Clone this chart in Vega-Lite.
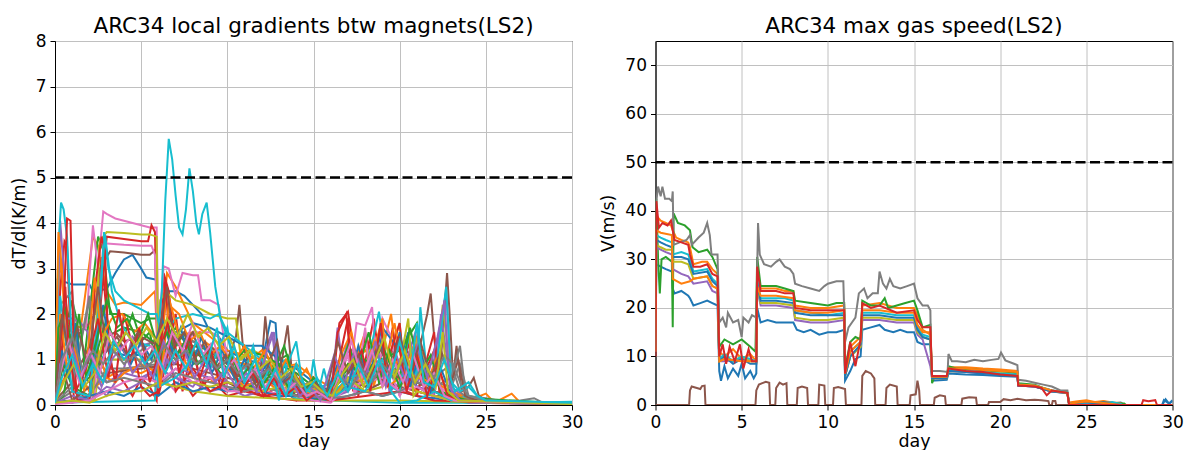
{
"$schema": "https://vega.github.io/schema/vega-lite/v6.json",
"background": "white",
"padding": {"left": 9, "top": 15, "right": 5, "bottom": 0},
"spacing": 14.5,
"config": {
  "font": "DejaVu Sans",
  "view": {"stroke": "black", "strokeWidth": 1},
  "axis": {"labelFont": "DejaVu Sans", "labelFontSize": 17, "titleFont": "DejaVu Sans", "titleFontSize": 17.5, "titleFontWeight": "normal", "labelColor": "black", "titleColor": "black", "domainColor": "black", "tickColor": "black", "tickSize": 5, "labelPadding": 4, "gridColor": "#c0c0c0", "gridWidth": 1, "gridOpacity": 1, "labelFlush": false, "labelOverlap": false},
  "axisX": {"titlePadding": 2},
  "axisY": {"titlePadding": 7},
  "title": {"font": "DejaVu Sans", "fontSize": 21.5, "fontWeight": "normal", "color": "black", "offset": -5}
},
"datasets": {
"grad": [
{"s":"a00","t":0,"v":0.05},{"s":"a00","t":0.15,"v":2.75},{"s":"a00","t":0.6,"v":2.7},{"s":"a00","t":1.0,"v":2.65},{"s":"a00","t":2.0,"v":2.65},{"s":"a00","t":2.2,"v":2.5},{"s":"a00","t":3.0,"v":2.55},{"s":"a00","t":3.5,"v":2.9},{"s":"a00","t":4.0,"v":3.2},{"s":"a00","t":4.5,"v":3.3},{"s":"a00","t":5.0,"v":3.0},{"s":"a00","t":5.3,"v":2.8},{"s":"a00","t":5.9,"v":2.75},{"s":"a00","t":6.0,"v":1.0},{"s":"a00","t":6.5,"v":2.5},{"s":"a00","t":7.0,"v":2.5},{"s":"a00","t":7.5,"v":2.4},{"s":"a00","t":8,"v":2.2},{"s":"a00","t":8.5,"v":2.0},{"s":"a00","t":9,"v":1.6},{"s":"a00","t":9.5,"v":1.5},{"s":"a00","t":10,"v":1.2},{"s":"a00","t":11,"v":1.0},{"s":"a00","t":12,"v":0.9},{"s":"a00","t":12.5,"v":1.85},{"s":"a00","t":12.8,"v":1.8},{"s":"a00","t":13,"v":0.6},{"s":"a00","t":14,"v":0.4},{"s":"a00","t":15,"v":0.3},{"s":"a00","t":16,"v":0.2},{"s":"a00","t":18,"v":0.5},{"s":"a00","t":19,"v":1.4},{"s":"a00","t":19.5,"v":0.3},{"s":"a00","t":20.5,"v":1.6},{"s":"a00","t":21,"v":0.3},{"s":"a00","t":22,"v":0.2},{"s":"a00","t":23,"v":0.1},{"s":"a00","t":25,"v":0.05},{"s":"a00","t":30,"v":0.02},
{"s":"a01","t":0,"v":0.05},{"s":"a01","t":0.3,"v":3.2},{"s":"a01","t":0.5,"v":2.6},{"s":"a01","t":0.8,"v":1.8},{"s":"a01","t":1.5,"v":1.7},{"s":"a01","t":2.2,"v":3.7},{"s":"a01","t":2.5,"v":3.5},{"s":"a01","t":3.0,"v":2.5},{"s":"a01","t":3.5,"v":2.2},{"s":"a01","t":4.0,"v":2.25},{"s":"a01","t":5,"v":2.2},{"s":"a01","t":5.8,"v":2.5},{"s":"a01","t":6.0,"v":0.8},{"s":"a01","t":6.5,"v":2.9},{"s":"a01","t":7,"v":2.6},{"s":"a01","t":8,"v":1.8},{"s":"a01","t":9,"v":1.5},{"s":"a01","t":10,"v":1.2},{"s":"a01","t":11,"v":1.1},{"s":"a01","t":12,"v":1.0},{"s":"a01","t":13,"v":0.5},{"s":"a01","t":14,"v":0.6},{"s":"a01","t":15,"v":0.3},{"s":"a01","t":16,"v":0.2},{"s":"a01","t":17,"v":0.5},{"s":"a01","t":18,"v":1.6},{"s":"a01","t":18.5,"v":0.4},{"s":"a01","t":19.5,"v":2.0},{"s":"a01","t":20,"v":0.5},{"s":"a01","t":21,"v":1.5},{"s":"a01","t":22,"v":0.3},{"s":"a01","t":23,"v":0.2},{"s":"a01","t":24,"v":0.1},{"s":"a01","t":25,"v":0.25},{"s":"a01","t":25.5,"v":0.05},{"s":"a01","t":26.5,"v":0.25},{"s":"a01","t":27,"v":0.05},{"s":"a01","t":30,"v":0.02},
{"s":"a02","t":0,"v":0.05},{"s":"a02","t":0.5,"v":1.5},{"s":"a02","t":1,"v":2.3},{"s":"a02","t":1.3,"v":1.8},{"s":"a02","t":1.5,"v":0.3},{"s":"a02","t":2.5,"v":3.7},{"s":"a02","t":2.8,"v":3.4},{"s":"a02","t":3.2,"v":2.0},{"s":"a02","t":4,"v":2.0},{"s":"a02","t":4.5,"v":1.9},{"s":"a02","t":5,"v":1.8},{"s":"a02","t":5.5,"v":1.9},{"s":"a02","t":6,"v":1.9},{"s":"a02","t":6.3,"v":1.2},{"s":"a02","t":7,"v":1.7},{"s":"a02","t":7.5,"v":1.4},{"s":"a02","t":8,"v":1.3},{"s":"a02","t":9,"v":1.2},{"s":"a02","t":10,"v":0.8},{"s":"a02","t":11,"v":0.6},{"s":"a02","t":12,"v":0.6},{"s":"a02","t":13,"v":1.0},{"s":"a02","t":13.5,"v":1.1},{"s":"a02","t":14,"v":0.5},{"s":"a02","t":15,"v":0.3},{"s":"a02","t":16,"v":0.3},{"s":"a02","t":17,"v":0.8},{"s":"a02","t":18,"v":1.2},{"s":"a02","t":19,"v":1.0},{"s":"a02","t":20,"v":1.2},{"s":"a02","t":21,"v":1.8},{"s":"a02","t":21.5,"v":0.5},{"s":"a02","t":22,"v":0.3},{"s":"a02","t":23,"v":0.15},{"s":"a02","t":24,"v":0.1},{"s":"a02","t":25,"v":0.05},{"s":"a02","t":30,"v":0.02},
{"s":"a03","t":0,"v":0.05},{"s":"a03","t":0.3,"v":2.5},{"s":"a03","t":0.55,"v":3.6},{"s":"a03","t":0.7,"v":3.5},{"s":"a03","t":0.9,"v":1.5},{"s":"a03","t":1.1,"v":0.1},{"s":"a03","t":1.6,"v":0.2},{"s":"a03","t":2.0,"v":0.1},{"s":"a03","t":2.4,"v":1.0},{"s":"a03","t":2.7,"v":3.25},{"s":"a03","t":3.0,"v":2.0},{"s":"a03","t":3.3,"v":0.8},{"s":"a03","t":4,"v":0.5},{"s":"a03","t":4.5,"v":0.2},{"s":"a03","t":5.0,"v":0.6},{"s":"a03","t":5.5,"v":0.4},{"s":"a03","t":5.9,"v":0.1},{"s":"a03","t":6.3,"v":2.9},{"s":"a03","t":6.6,"v":2.5},{"s":"a03","t":7,"v":1.2},{"s":"a03","t":7.4,"v":0.3},{"s":"a03","t":8,"v":1.3},{"s":"a03","t":8.5,"v":0.4},{"s":"a03","t":9,"v":1.0},{"s":"a03","t":10,"v":0.3},{"s":"a03","t":11,"v":0.5},{"s":"a03","t":12,"v":0.2},{"s":"a03","t":13,"v":0.4},{"s":"a03","t":14,"v":0.1},{"s":"a03","t":15,"v":0.5},{"s":"a03","t":16,"v":0.1},{"s":"a03","t":16.5,"v":1.8},{"s":"a03","t":17,"v":2.05},{"s":"a03","t":17.3,"v":1.3},{"s":"a03","t":17.6,"v":0.2},{"s":"a03","t":18.5,"v":1.9},{"s":"a03","t":19,"v":0.5},{"s":"a03","t":19.6,"v":1.7},{"s":"a03","t":20,"v":0.2},{"s":"a03","t":20.5,"v":1.4},{"s":"a03","t":21,"v":0.3},{"s":"a03","t":22,"v":1.2},{"s":"a03","t":22.4,"v":0.2},{"s":"a03","t":23,"v":0.1},{"s":"a03","t":24,"v":0.05},{"s":"a03","t":30,"v":0.02},
{"s":"a04","t":0,"v":0.05},{"s":"a04","t":0.2,"v":1.9},{"s":"a04","t":1.0,"v":1.9},{"s":"a04","t":1.5,"v":1.8},{"s":"a04","t":1.9,"v":1.6},{"s":"a04","t":2.2,"v":0.5},{"s":"a04","t":3,"v":0.2},{"s":"a04","t":4,"v":0.8},{"s":"a04","t":4.5,"v":1.5},{"s":"a04","t":5,"v":1.3},{"s":"a04","t":5.8,"v":1.4},{"s":"a04","t":6.2,"v":0.5},{"s":"a04","t":7,"v":0.8},{"s":"a04","t":8,"v":0.7},{"s":"a04","t":9,"v":0.6},{"s":"a04","t":10,"v":0.5},{"s":"a04","t":11,"v":0.4},{"s":"a04","t":12,"v":1.0},{"s":"a04","t":12.6,"v":1.6},{"s":"a04","t":13,"v":0.3},{"s":"a04","t":14,"v":0.2},{"s":"a04","t":15,"v":0.4},{"s":"a04","t":16,"v":0.2},{"s":"a04","t":16.4,"v":1.7},{"s":"a04","t":16.8,"v":0.5},{"s":"a04","t":18,"v":0.9},{"s":"a04","t":19,"v":1.1},{"s":"a04","t":20,"v":0.8},{"s":"a04","t":21,"v":0.5},{"s":"a04","t":22,"v":1.0},{"s":"a04","t":22.7,"v":2.5},{"s":"a04","t":23,"v":0.4},{"s":"a04","t":24,"v":0.1},{"s":"a04","t":30,"v":0.02},
{"s":"a05","t":0,"v":0.05},{"s":"a05","t":0.2,"v":1.2},{"s":"a05","t":0.5,"v":1.3},{"s":"a05","t":1,"v":1.45},{"s":"a05","t":1.5,"v":1.6},{"s":"a05","t":2,"v":1.8},{"s":"a05","t":2.3,"v":2.0},{"s":"a05","t":2.6,"v":3.0},{"s":"a05","t":3.2,"v":3.38},{"s":"a05","t":4,"v":3.35},{"s":"a05","t":5,"v":3.3},{"s":"a05","t":5.5,"v":3.3},{"s":"a05","t":5.8,"v":3.4},{"s":"a05","t":6.0,"v":1.0},{"s":"a05","t":6.5,"v":0.8},{"s":"a05","t":7,"v":1.5},{"s":"a05","t":8,"v":1.4},{"s":"a05","t":9,"v":1.2},{"s":"a05","t":10,"v":1.0},{"s":"a05","t":10.5,"v":1.5},{"s":"a05","t":10.7,"v":2.2},{"s":"a05","t":10.9,"v":1.3},{"s":"a05","t":11.5,"v":0.6},{"s":"a05","t":12,"v":0.9},{"s":"a05","t":12.2,"v":1.95},{"s":"a05","t":12.4,"v":1.2},{"s":"a05","t":13,"v":0.6},{"s":"a05","t":13.5,"v":1.75},{"s":"a05","t":13.8,"v":0.5},{"s":"a05","t":15,"v":0.3},{"s":"a05","t":16,"v":0.2},{"s":"a05","t":17,"v":1.3},{"s":"a05","t":18,"v":0.8},{"s":"a05","t":19,"v":1.0},{"s":"a05","t":20,"v":1.3},{"s":"a05","t":21,"v":1.0},{"s":"a05","t":21.6,"v":2.0},{"s":"a05","t":21.8,"v":2.45},{"s":"a05","t":22.0,"v":1.5},{"s":"a05","t":22.3,"v":0.5},{"s":"a05","t":22.6,"v":2.1},{"s":"a05","t":22.75,"v":2.9},{"s":"a05","t":22.9,"v":2.0},{"s":"a05","t":23.1,"v":0.6},{"s":"a05","t":23.3,"v":1.3},{"s":"a05","t":23.6,"v":0.3},{"s":"a05","t":24,"v":0.4},{"s":"a05","t":24.3,"v":0.6},{"s":"a05","t":24.6,"v":0.2},{"s":"a05","t":25,"v":0.1},{"s":"a05","t":30,"v":0.03},
{"s":"a06","t":0,"v":0.05},{"s":"a06","t":0.3,"v":1.5},{"s":"a06","t":1,"v":1.6},{"s":"a06","t":1.8,"v":1.7},{"s":"a06","t":2.2,"v":3.95},{"s":"a06","t":2.5,"v":3.0},{"s":"a06","t":2.8,"v":4.25},{"s":"a06","t":3.0,"v":4.2},{"s":"a06","t":3.5,"v":4.1},{"s":"a06","t":4,"v":4.05},{"s":"a06","t":4.5,"v":4.0},{"s":"a06","t":5,"v":3.95},{"s":"a06","t":5.5,"v":3.9},{"s":"a06","t":5.9,"v":3.9},{"s":"a06","t":6.0,"v":1.5},{"s":"a06","t":6.3,"v":3.05},{"s":"a06","t":6.6,"v":3.0},{"s":"a06","t":7,"v":2.4},{"s":"a06","t":7.4,"v":2.9},{"s":"a06","t":8,"v":2.85},{"s":"a06","t":8.3,"v":2.85},{"s":"a06","t":8.5,"v":2.3},{"s":"a06","t":9,"v":2.3},{"s":"a06","t":9.5,"v":2.2},{"s":"a06","t":10,"v":1.0},{"s":"a06","t":11,"v":0.8},{"s":"a06","t":12,"v":0.7},{"s":"a06","t":13,"v":0.3},{"s":"a06","t":14,"v":0.5},{"s":"a06","t":15,"v":0.3},{"s":"a06","t":16,"v":0.2},{"s":"a06","t":17,"v":0.3},{"s":"a06","t":17.5,"v":1.8},{"s":"a06","t":18,"v":1.75},{"s":"a06","t":18.4,"v":2.15},{"s":"a06","t":18.7,"v":0.6},{"s":"a06","t":19,"v":1.9},{"s":"a06","t":19.5,"v":1.5},{"s":"a06","t":20,"v":0.4},{"s":"a06","t":21,"v":1.3},{"s":"a06","t":22,"v":0.5},{"s":"a06","t":23,"v":0.2},{"s":"a06","t":24,"v":0.1},{"s":"a06","t":30,"v":0.02},
{"s":"a07","t":0,"v":0.05},{"s":"a07","t":0.3,"v":2.2},{"s":"a07","t":1,"v":2.5},{"s":"a07","t":1.3,"v":1.0},{"s":"a07","t":2,"v":2.3},{"s":"a07","t":2.5,"v":2.0},{"s":"a07","t":3,"v":1.3},{"s":"a07","t":4,"v":1.0},{"s":"a07","t":5,"v":1.2},{"s":"a07","t":6,"v":1.5},{"s":"a07","t":6.5,"v":0.9},{"s":"a07","t":7,"v":1.3},{"s":"a07","t":8,"v":1.4},{"s":"a07","t":9,"v":1.2},{"s":"a07","t":10,"v":0.9},{"s":"a07","t":11,"v":0.7},{"s":"a07","t":12,"v":0.6},{"s":"a07","t":13,"v":0.5},{"s":"a07","t":14,"v":0.4},{"s":"a07","t":15,"v":0.3},{"s":"a07","t":16,"v":0.5},{"s":"a07","t":17,"v":0.6},{"s":"a07","t":18,"v":0.5},{"s":"a07","t":19,"v":0.8},{"s":"a07","t":20,"v":0.7},{"s":"a07","t":21,"v":1.0},{"s":"a07","t":22,"v":0.5},{"s":"a07","t":23,"v":0.4},{"s":"a07","t":23.5,"v":0.9},{"s":"a07","t":24,"v":0.2},{"s":"a07","t":25,"v":0.15},{"s":"a07","t":26,"v":0.08},{"s":"a07","t":27,"v":0.1},{"s":"a07","t":27.8,"v":0.15},{"s":"a07","t":28.3,"v":0.05},{"s":"a07","t":30,"v":0.02},
{"s":"a08","t":0,"v":0.05},{"s":"a08","t":2.3,"v":0.1},{"s":"a08","t":2.6,"v":0.9},{"s":"a08","t":3,"v":1.0},{"s":"a08","t":4,"v":1.0},{"s":"a08","t":5,"v":1.0},{"s":"a08","t":5.9,"v":1.0},{"s":"a08","t":6.1,"v":2.3},{"s":"a08","t":6.4,"v":2.5},{"s":"a08","t":7,"v":2.3},{"s":"a08","t":8,"v":2.2},{"s":"a08","t":9,"v":2.0},{"s":"a08","t":10,"v":1.9},{"s":"a08","t":10.5,"v":1.9},{"s":"a08","t":10.8,"v":1.0},{"s":"a08","t":11.5,"v":1.2},{"s":"a08","t":12,"v":1.1},{"s":"a08","t":13,"v":0.5},{"s":"a08","t":14,"v":0.3},{"s":"a08","t":15,"v":0.35},{"s":"a08","t":16,"v":0.3},{"s":"a08","t":17,"v":0.5},{"s":"a08","t":18,"v":1.3},{"s":"a08","t":19,"v":0.6},{"s":"a08","t":20,"v":1.8},{"s":"a08","t":20.3,"v":0.4},{"s":"a08","t":21,"v":1.4},{"s":"a08","t":22,"v":0.3},{"s":"a08","t":22.5,"v":2.2},{"s":"a08","t":22.7,"v":1.5},{"s":"a08","t":23,"v":0.3},{"s":"a08","t":24,"v":0.1},{"s":"a08","t":30,"v":0.02},
{"s":"a09","t":0,"v":0.05},{"s":"a09","t":5.8,"v":0.1},{"s":"a09","t":5.9,"v":1.2},{"s":"a09","t":6.2,"v":2.5},{"s":"a09","t":6.4,"v":4.5},{"s":"a09","t":6.6,"v":5.85},{"s":"a09","t":6.8,"v":5.4},{"s":"a09","t":7.0,"v":4.6},{"s":"a09","t":7.2,"v":3.9},{"s":"a09","t":7.4,"v":3.75},{"s":"a09","t":7.6,"v":4.3},{"s":"a09","t":7.8,"v":5.2},{"s":"a09","t":8.0,"v":4.7},{"s":"a09","t":8.2,"v":4.0},{"s":"a09","t":8.35,"v":3.75},{"s":"a09","t":8.55,"v":4.2},{"s":"a09","t":8.8,"v":4.45},{"s":"a09","t":9.0,"v":3.8},{"s":"a09","t":9.3,"v":2.6},{"s":"a09","t":9.6,"v":1.9},{"s":"a09","t":10.0,"v":1.5},{"s":"a09","t":10.3,"v":1.1},{"s":"a09","t":10.7,"v":0.8},{"s":"a09","t":11.0,"v":0.9},{"s":"a09","t":11.5,"v":0.6},{"s":"a09","t":12,"v":0.4},{"s":"a09","t":13,"v":0.3},{"s":"a09","t":14,"v":0.15},{"s":"a09","t":16,"v":0.1},{"s":"a09","t":20,"v":0.05},{"s":"a09","t":30,"v":0.05},
{"s":"a10","t":0,"v":0.3},{"s":"a10","t":1,"v":0.8},{"s":"a10","t":2,"v":0.5},{"s":"a10","t":3,"v":1.2},{"s":"a10","t":4,"v":1.1},{"s":"a10","t":5,"v":1.1},{"s":"a10","t":6,"v":0.6},{"s":"a10","t":7,"v":1.6},{"s":"a10","t":8,"v":1.8},{"s":"a10","t":9,"v":1.7},{"s":"a10","t":10,"v":1.5},{"s":"a10","t":11,"v":1.3},{"s":"a10","t":12,"v":1.3},{"s":"a10","t":13,"v":1.0},{"s":"a10","t":14,"v":0.8},{"s":"a10","t":15,"v":0.5},{"s":"a10","t":16,"v":0.3},{"s":"a10","t":17,"v":1.2},{"s":"a10","t":18,"v":0.6},{"s":"a10","t":19,"v":1.7},{"s":"a10","t":20,"v":1.2},{"s":"a10","t":21,"v":0.4},{"s":"a10","t":22,"v":0.2},{"s":"a10","t":23,"v":0.1},{"s":"a10","t":30,"v":0.02},
{"s":"a11","t":0,"v":0.1},{"s":"a11","t":1,"v":1.0},{"s":"a11","t":2,"v":0.3},{"s":"a11","t":3,"v":0.6},{"s":"a11","t":4,"v":0.8},{"s":"a11","t":5,"v":0.7},{"s":"a11","t":6,"v":0.9},{"s":"a11","t":7,"v":1.5},{"s":"a11","t":8,"v":1.6},{"s":"a11","t":9,"v":1.3},{"s":"a11","t":10,"v":1.0},{"s":"a11","t":11,"v":0.9},{"s":"a11","t":12,"v":1.2},{"s":"a11","t":13,"v":0.8},{"s":"a11","t":14,"v":0.9},{"s":"a11","t":15,"v":0.6},{"s":"a11","t":16,"v":0.4},{"s":"a11","t":17,"v":0.9},{"s":"a11","t":18,"v":1.2},{"s":"a11","t":19,"v":0.7},{"s":"a11","t":20,"v":1.0},{"s":"a11","t":21,"v":0.6},{"s":"a11","t":22,"v":0.5},{"s":"a11","t":23,"v":0.3},{"s":"a11","t":24,"v":0.15},{"s":"a11","t":25,"v":0.1},{"s":"a11","t":30,"v":0.03},
{"s":"a12","t":0,"v":0.1},{"s":"a12","t":0.5,"v":0.9},{"s":"a12","t":1,"v":0.4},{"s":"a12","t":2,"v":0.2},{"s":"a12","t":3,"v":1.5},{"s":"a12","t":4,"v":1.7},{"s":"a12","t":5,"v":1.6},{"s":"a12","t":6,"v":1.3},{"s":"a12","t":7,"v":1.0},{"s":"a12","t":8,"v":1.2},{"s":"a12","t":9,"v":0.9},{"s":"a12","t":10,"v":0.8},{"s":"a12","t":11,"v":1.2},{"s":"a12","t":12,"v":1.1},{"s":"a12","t":13,"v":0.9},{"s":"a12","t":14,"v":0.7},{"s":"a12","t":15,"v":0.4},{"s":"a12","t":16,"v":0.3},{"s":"a12","t":17,"v":0.7},{"s":"a12","t":18,"v":1.0},{"s":"a12","t":19,"v":0.5},{"s":"a12","t":20,"v":0.9},{"s":"a12","t":21,"v":0.4},{"s":"a12","t":22,"v":0.2},{"s":"a12","t":30,"v":0.02},
{"s":"a13","t":0,"v":0.05},{"s":"a13","t":1.5,"v":0.1},{"s":"a13","t":2.2,"v":0.3},{"s":"a13","t":2.6,"v":2.0},{"s":"a13","t":3.0,"v":3.7},{"s":"a13","t":4,"v":3.65},{"s":"a13","t":5,"v":3.6},{"s":"a13","t":5.4,"v":3.6},{"s":"a13","t":5.6,"v":3.95},{"s":"a13","t":5.8,"v":3.8},{"s":"a13","t":6.0,"v":0.2},{"s":"a13","t":6.5,"v":1.0},{"s":"a13","t":7,"v":2.0},{"s":"a13","t":7.5,"v":0.5},{"s":"a13","t":8,"v":0.2},{"s":"a13","t":9,"v":0.6},{"s":"a13","t":10,"v":0.2},{"s":"a13","t":11,"v":0.3},{"s":"a13","t":12,"v":0.2},{"s":"a13","t":14,"v":0.1},{"s":"a13","t":16,"v":0.1},{"s":"a13","t":17,"v":1.9},{"s":"a13","t":17.3,"v":0.3},{"s":"a13","t":18,"v":1.5},{"s":"a13","t":19,"v":0.6},{"s":"a13","t":20,"v":1.8},{"s":"a13","t":20.4,"v":0.3},{"s":"a13","t":21,"v":0.2},{"s":"a13","t":22,"v":1.6},{"s":"a13","t":22.3,"v":0.3},{"s":"a13","t":23,"v":0.1},{"s":"a13","t":30,"v":0.02},
{"s":"a14","t":0,"v":0.05},{"s":"a14","t":0.3,"v":4.05},{"s":"a14","t":0.5,"v":3.0},{"s":"a14","t":0.7,"v":1.5},{"s":"a14","t":1,"v":0.8},{"s":"a14","t":1.5,"v":0.5},{"s":"a14","t":2,"v":0.7},{"s":"a14","t":3,"v":0.5},{"s":"a14","t":4,"v":0.7},{"s":"a14","t":5,"v":0.6},{"s":"a14","t":6,"v":0.8},{"s":"a14","t":7,"v":0.6},{"s":"a14","t":8,"v":0.5},{"s":"a14","t":9,"v":0.3},{"s":"a14","t":10,"v":0.4},{"s":"a14","t":11,"v":0.2},{"s":"a14","t":12,"v":0.3},{"s":"a14","t":13,"v":0.2},{"s":"a14","t":14,"v":0.3},{"s":"a14","t":15,"v":0.2},{"s":"a14","t":16,"v":0.1},{"s":"a14","t":17,"v":1.4},{"s":"a14","t":17.5,"v":0.3},{"s":"a14","t":18,"v":0.7},{"s":"a14","t":19,"v":1.8},{"s":"a14","t":19.4,"v":0.3},{"s":"a14","t":20,"v":0.5},{"s":"a14","t":21,"v":1.7},{"s":"a14","t":21.3,"v":0.5},{"s":"a14","t":22,"v":0.2},{"s":"a14","t":22.4,"v":2.0},{"s":"a14","t":23,"v":0.3},{"s":"a14","t":24,"v":0.05},{"s":"a14","t":30,"v":0.02},
{"s":"a15","t":0,"v":0.1},{"s":"a15","t":1,"v":0.5},{"s":"a15","t":2,"v":1.3},{"s":"a15","t":3,"v":0.7},{"s":"a15","t":4,"v":0.75},{"s":"a15","t":5,"v":0.8},{"s":"a15","t":6,"v":0.85},{"s":"a15","t":7,"v":0.9},{"s":"a15","t":8,"v":0.8},{"s":"a15","t":9,"v":0.7},{"s":"a15","t":10,"v":0.6},{"s":"a15","t":11,"v":0.5},{"s":"a15","t":12,"v":0.6},{"s":"a15","t":13,"v":0.4},{"s":"a15","t":14,"v":0.3},{"s":"a15","t":15,"v":0.25},{"s":"a15","t":16,"v":0.2},{"s":"a15","t":17,"v":0.4},{"s":"a15","t":18,"v":0.3},{"s":"a15","t":19,"v":0.5},{"s":"a15","t":20,"v":0.4},{"s":"a15","t":21,"v":0.3},{"s":"a15","t":22,"v":0.2},{"s":"a15","t":23,"v":0.15},{"s":"a15","t":24,"v":0.1},{"s":"a15","t":30,"v":0.02},
{"s":"a16","t":0,"v":0.05},{"s":"a16","t":2.3,"v":0.2},{"s":"a16","t":2.8,"v":3.55},{"s":"a16","t":3.0,"v":3.55},{"s":"a16","t":4,"v":3.52},{"s":"a16","t":5,"v":3.5},{"s":"a16","t":5.6,"v":3.5},{"s":"a16","t":5.8,"v":3.3},{"s":"a16","t":6.0,"v":0.4},{"s":"a16","t":6.5,"v":0.5},{"s":"a16","t":7,"v":0.3},{"s":"a16","t":8,"v":1.6},{"s":"a16","t":9,"v":1.6},{"s":"a16","t":9.5,"v":1.5},{"s":"a16","t":10,"v":0.4},{"s":"a16","t":12,"v":0.3},{"s":"a16","t":14,"v":0.2},{"s":"a16","t":16,"v":0.1},{"s":"a16","t":17,"v":1.1},{"s":"a16","t":17.4,"v":0.2},{"s":"a16","t":18,"v":1.7},{"s":"a16","t":18.3,"v":0.4},{"s":"a16","t":19,"v":1.2},{"s":"a16","t":20,"v":0.2},{"s":"a16","t":21,"v":0.8},{"s":"a16","t":22,"v":0.1},{"s":"a16","t":30,"v":0.02},
{"s":"a17","t":0,"v":0.05},{"s":"a17","t":1,"v":0.3},{"s":"a17","t":2,"v":0.2},{"s":"a17","t":3,"v":0.8},{"s":"a17","t":4,"v":0.8},{"s":"a17","t":5,"v":0.85},{"s":"a17","t":6,"v":0.9},{"s":"a17","t":7,"v":1.4},{"s":"a17","t":8,"v":1.2},{"s":"a17","t":9,"v":1.1},{"s":"a17","t":10,"v":0.9},{"s":"a17","t":11,"v":0.6},{"s":"a17","t":12,"v":0.5},{"s":"a17","t":13,"v":0.5},{"s":"a17","t":14,"v":0.4},{"s":"a17","t":15,"v":0.4},{"s":"a17","t":16,"v":0.3},{"s":"a17","t":17,"v":0.4},{"s":"a17","t":18,"v":0.6},{"s":"a17","t":19,"v":0.9},{"s":"a17","t":20,"v":0.6},{"s":"a17","t":21,"v":0.8},{"s":"a17","t":22,"v":0.6},{"s":"a17","t":23,"v":0.9},{"s":"a17","t":23.5,"v":0.3},{"s":"a17","t":24,"v":0.1},{"s":"a17","t":30,"v":0.02},
{"s":"a18","t":0,"v":0.05},{"s":"a18","t":2.2,"v":0.1},{"s":"a18","t":2.6,"v":3.6},{"s":"a18","t":3.0,"v":3.8},{"s":"a18","t":4,"v":3.78},{"s":"a18","t":5,"v":3.75},{"s":"a18","t":5.5,"v":3.75},{"s":"a18","t":5.9,"v":3.7},{"s":"a18","t":6.0,"v":0.5},{"s":"a18","t":7,"v":0.4},{"s":"a18","t":8,"v":0.3},{"s":"a18","t":10,"v":0.2},{"s":"a18","t":15,"v":0.1},{"s":"a18","t":20,"v":0.1},{"s":"a18","t":30,"v":0.02},
{"s":"a19","t":0,"v":0.05},{"s":"a19","t":0.2,"v":3.5},{"s":"a19","t":0.35,"v":4.45},{"s":"a19","t":0.5,"v":4.3},{"s":"a19","t":0.7,"v":3.7},{"s":"a19","t":0.9,"v":2.0},{"s":"a19","t":1.1,"v":0.5},{"s":"a19","t":1.4,"v":0.2},{"s":"a19","t":2,"v":0.1},{"s":"a19","t":2.5,"v":1.5},{"s":"a19","t":2.85,"v":3.8},{"s":"a19","t":3.1,"v":3.0},{"s":"a19","t":3.5,"v":2.5},{"s":"a19","t":4,"v":2.3},{"s":"a19","t":4.5,"v":2.2},{"s":"a19","t":5,"v":2.1},{"s":"a19","t":5.5,"v":2.0},{"s":"a19","t":5.9,"v":2.0},{"s":"a19","t":6.2,"v":1.5},{"s":"a19","t":7,"v":1.9},{"s":"a19","t":8,"v":2.0},{"s":"a19","t":9,"v":1.9},{"s":"a19","t":9.5,"v":2.0},{"s":"a19","t":10,"v":1.6},{"s":"a19","t":11,"v":1.3},{"s":"a19","t":12,"v":1.0},{"s":"a19","t":12.5,"v":0.6},{"s":"a19","t":13,"v":0.3},{"s":"a19","t":13.5,"v":0.9},{"s":"a19","t":14,"v":1.4},{"s":"a19","t":14.3,"v":0.6},{"s":"a19","t":14.7,"v":0.2},{"s":"a19","t":15,"v":1.0},{"s":"a19","t":15.3,"v":0.3},{"s":"a19","t":15.6,"v":0.8},{"s":"a19","t":16,"v":0.2},{"s":"a19","t":17,"v":0.6},{"s":"a19","t":18,"v":0.7},{"s":"a19","t":18.8,"v":2.05},{"s":"a19","t":19.1,"v":1.2},{"s":"a19","t":19.5,"v":0.4},{"s":"a19","t":20,"v":0.3},{"s":"a19","t":20.5,"v":1.5},{"s":"a19","t":21,"v":0.6},{"s":"a19","t":21.2,"v":2.15},{"s":"a19","t":21.5,"v":1.0},{"s":"a19","t":22,"v":0.4},{"s":"a19","t":22.7,"v":2.6},{"s":"a19","t":23,"v":0.5},{"s":"a19","t":23.5,"v":0.3},{"s":"a19","t":24,"v":0.4},{"s":"a19","t":24.5,"v":0.2},{"s":"a19","t":25,"v":0.1},{"s":"a19","t":28,"v":0.05},{"s":"a19","t":30,"v":0.06},
{"s":"a20","t":0,"v":0.02},{"s":"a20","t":0.5,"v":0.1},{"s":"a20","t":1,"v":0.05},{"s":"a20","t":2,"v":0.2},{"s":"a20","t":3,"v":0.3},{"s":"a20","t":4,"v":0.2},{"s":"a20","t":5,"v":0.4},{"s":"a20","t":6,"v":0.2},{"s":"a20","t":7,"v":0.5},{"s":"a20","t":8,"v":0.3},{"s":"a20","t":9,"v":0.4},{"s":"a20","t":10,"v":0.3},{"s":"a20","t":11,"v":0.5},{"s":"a20","t":12,"v":0.3},{"s":"a20","t":13,"v":0.2},{"s":"a20","t":14,"v":0.2},{"s":"a20","t":15,"v":0.15},{"s":"a20","t":16,"v":0.1},{"s":"a20","t":17,"v":0.2},{"s":"a20","t":18,"v":0.3},{"s":"a20","t":19,"v":0.2},{"s":"a20","t":20,"v":0.3},{"s":"a20","t":21,"v":0.2},{"s":"a20","t":22,"v":0.15},{"s":"a20","t":23,"v":0.1},{"s":"a20","t":24,"v":0.1},{"s":"a20","t":25,"v":0.08},{"s":"a20","t":30,"v":0.03},
{"s":"a21","t":0,"v":0.05},{"s":"a21","t":0.2,"v":3.8},{"s":"a21","t":0.4,"v":3.0},{"s":"a21","t":0.6,"v":1.5},{"s":"a21","t":1,"v":1.2},{"s":"a21","t":1.5,"v":0.6},{"s":"a21","t":2,"v":0.3},{"s":"a21","t":2.5,"v":1.2},{"s":"a21","t":3,"v":0.6},{"s":"a21","t":3.5,"v":0.5},{"s":"a21","t":4,"v":0.7},{"s":"a21","t":5,"v":0.9},{"s":"a21","t":6,"v":0.7},{"s":"a21","t":6.5,"v":2.5},{"s":"a21","t":7,"v":1.8},{"s":"a21","t":7.5,"v":1.0},{"s":"a21","t":8,"v":0.6},{"s":"a21","t":9,"v":0.5},{"s":"a21","t":10,"v":0.8},{"s":"a21","t":11,"v":0.4},{"s":"a21","t":12,"v":0.6},{"s":"a21","t":13,"v":0.3},{"s":"a21","t":14,"v":0.9},{"s":"a21","t":14.5,"v":0.3},{"s":"a21","t":15,"v":0.2},{"s":"a21","t":16,"v":0.1},{"s":"a21","t":17,"v":0.6},{"s":"a21","t":18,"v":0.5},{"s":"a21","t":19,"v":1.9},{"s":"a21","t":19.3,"v":0.4},{"s":"a21","t":20,"v":0.6},{"s":"a21","t":21,"v":0.3},{"s":"a21","t":22,"v":0.2},{"s":"a21","t":23,"v":0.1},{"s":"a21","t":24,"v":0.2},{"s":"a21","t":25,"v":0.1},{"s":"a21","t":30,"v":0.02},
{"s":"a22","t":0,"v":0.05},{"s":"a22","t":0.5,"v":0.2},{"s":"a22","t":1,"v":1.4},{"s":"a22","t":1.5,"v":0.5},{"s":"a22","t":2,"v":0.6},{"s":"a22","t":3,"v":1.9},{"s":"a22","t":3.5,"v":1.3},{"s":"a22","t":4,"v":1.5},{"s":"a22","t":4.5,"v":2.0},{"s":"a22","t":5,"v":1.4},{"s":"a22","t":5.5,"v":1.6},{"s":"a22","t":6,"v":0.6},{"s":"a22","t":6.5,"v":1.8},{"s":"a22","t":7,"v":1.3},{"s":"a22","t":7.5,"v":1.6},{"s":"a22","t":8,"v":0.9},{"s":"a22","t":9,"v":1.0},{"s":"a22","t":10,"v":0.5},{"s":"a22","t":11,"v":0.3},{"s":"a22","t":12,"v":0.6},{"s":"a22","t":13,"v":0.9},{"s":"a22","t":13.5,"v":0.4},{"s":"a22","t":14,"v":0.2},{"s":"a22","t":15,"v":0.1},{"s":"a22","t":16,"v":0.2},{"s":"a22","t":17,"v":0.9},{"s":"a22","t":18,"v":0.6},{"s":"a22","t":19,"v":1.3},{"s":"a22","t":20,"v":0.4},{"s":"a22","t":21,"v":1.0},{"s":"a22","t":22,"v":0.3},{"s":"a22","t":23,"v":0.1},{"s":"a22","t":30,"v":0.02},
{"s":"a23","t":0,"v":0.05},{"s":"a23","t":0.4,"v":1.0},{"s":"a23","t":0.7,"v":4.1},{"s":"a23","t":0.9,"v":4.05},{"s":"a23","t":1.1,"v":1.0},{"s":"a23","t":1.3,"v":0.1},{"s":"a23","t":2,"v":0.1},{"s":"a23","t":2.3,"v":2.5},{"s":"a23","t":2.7,"v":3.7},{"s":"a23","t":2.9,"v":3.4},{"s":"a23","t":3.1,"v":1.2},{"s":"a23","t":3.5,"v":0.5},{"s":"a23","t":4,"v":2.0},{"s":"a23","t":4.5,"v":1.3},{"s":"a23","t":5,"v":0.4},{"s":"a23","t":5.5,"v":0.2},{"s":"a23","t":6,"v":0.3},{"s":"a23","t":6.4,"v":2.8},{"s":"a23","t":6.7,"v":1.0},{"s":"a23","t":7,"v":0.3},{"s":"a23","t":8,"v":0.8},{"s":"a23","t":9,"v":0.3},{"s":"a23","t":10,"v":0.5},{"s":"a23","t":12,"v":0.2},{"s":"a23","t":14,"v":0.3},{"s":"a23","t":16,"v":0.1},{"s":"a23","t":18,"v":0.2},{"s":"a23","t":20,"v":0.3},{"s":"a23","t":22,"v":0.1},{"s":"a23","t":30,"v":0.02},
{"s":"a24","t":0,"v":0.05},{"s":"a24","t":1,"v":0.2},{"s":"a24","t":2,"v":0.1},{"s":"a24","t":3,"v":0.4},{"s":"a24","t":4,"v":0.3},{"s":"a24","t":5,"v":0.5},{"s":"a24","t":5.5,"v":0.7},{"s":"a24","t":6,"v":0.4},{"s":"a24","t":6.5,"v":1.0},{"s":"a24","t":7,"v":0.6},{"s":"a24","t":8,"v":0.4},{"s":"a24","t":9,"v":0.9},{"s":"a24","t":10,"v":0.5},{"s":"a24","t":11,"v":0.4},{"s":"a24","t":12,"v":0.3},{"s":"a24","t":13,"v":0.7},{"s":"a24","t":14,"v":0.3},{"s":"a24","t":15,"v":0.2},{"s":"a24","t":16,"v":0.15},{"s":"a24","t":17,"v":0.3},{"s":"a24","t":18,"v":0.8},{"s":"a24","t":19,"v":0.5},{"s":"a24","t":20,"v":0.9},{"s":"a24","t":21,"v":0.4},{"s":"a24","t":22,"v":0.3},{"s":"a24","t":23,"v":0.2},{"s":"a24","t":24,"v":0.1},{"s":"a24","t":30,"v":0.02},
{"s":"a25","t":0,"v":0.05},{"s":"a25","t":0.3,"v":1.0},{"s":"a25","t":1,"v":0.1},{"s":"a25","t":2,"v":0.4},{"s":"a25","t":3,"v":1.5},{"s":"a25","t":3.5,"v":1.6},{"s":"a25","t":4,"v":1.4},{"s":"a25","t":5,"v":1.5},{"s":"a25","t":6,"v":1.3},{"s":"a25","t":7,"v":1.1},{"s":"a25","t":8,"v":1.6},{"s":"a25","t":8.5,"v":1.0},{"s":"a25","t":9,"v":1.3},{"s":"a25","t":10,"v":0.9},{"s":"a25","t":11,"v":0.5},{"s":"a25","t":12,"v":0.8},{"s":"a25","t":13,"v":0.4},{"s":"a25","t":14,"v":0.2},{"s":"a25","t":15,"v":0.6},{"s":"a25","t":15.5,"v":0.2},{"s":"a25","t":16,"v":0.4},{"s":"a25","t":17,"v":0.6},{"s":"a25","t":18,"v":0.4},{"s":"a25","t":19,"v":0.7},{"s":"a25","t":20,"v":0.6},{"s":"a25","t":21,"v":0.5},{"s":"a25","t":22,"v":0.3},{"s":"a25","t":23,"v":0.2},{"s":"a25","t":24,"v":0.1},{"s":"a25","t":30,"v":0.02},
{"s":"a26","t":0,"v":0.02},{"s":"a26","t":1,"v":0.05},{"s":"a26","t":2,"v":0.1},{"s":"a26","t":3,"v":0.3},{"s":"a26","t":4,"v":0.5},{"s":"a26","t":5,"v":0.6},{"s":"a26","t":6,"v":0.5},{"s":"a26","t":7,"v":0.8},{"s":"a26","t":8,"v":0.5},{"s":"a26","t":9,"v":0.6},{"s":"a26","t":10,"v":0.3},{"s":"a26","t":11,"v":0.3},{"s":"a26","t":12,"v":0.4},{"s":"a26","t":13,"v":0.3},{"s":"a26","t":14,"v":0.2},{"s":"a26","t":15,"v":0.1},{"s":"a26","t":16,"v":0.05},{"s":"a26","t":17,"v":0.4},{"s":"a26","t":18,"v":0.5},{"s":"a26","t":19,"v":0.6},{"s":"a26","t":20,"v":0.3},{"s":"a26","t":21,"v":0.4},{"s":"a26","t":22,"v":0.2},{"s":"a26","t":23,"v":0.1},{"s":"a26","t":30,"v":0.02},
{"s":"a27","t":0,"v":0.05},{"s":"a27","t":1,"v":0.4},{"s":"a27","t":2,"v":2.4},{"s":"a27","t":2.3,"v":1.0},{"s":"a27","t":3,"v":0.5},{"s":"a27","t":4,"v":0.6},{"s":"a27","t":5,"v":0.5},{"s":"a27","t":6,"v":0.4},{"s":"a27","t":7,"v":0.7},{"s":"a27","t":8,"v":0.6},{"s":"a27","t":9,"v":0.5},{"s":"a27","t":10,"v":0.4},{"s":"a27","t":11,"v":0.3},{"s":"a27","t":12,"v":0.4},{"s":"a27","t":13,"v":0.3},{"s":"a27","t":14,"v":0.2},{"s":"a27","t":15,"v":0.2},{"s":"a27","t":16,"v":0.15},{"s":"a27","t":17,"v":0.2},{"s":"a27","t":18,"v":0.3},{"s":"a27","t":19,"v":0.2},{"s":"a27","t":20,"v":0.3},{"s":"a27","t":21,"v":0.5},{"s":"a27","t":22,"v":0.4},{"s":"a27","t":23,"v":0.6},{"s":"a27","t":23.5,"v":1.3},{"s":"a27","t":23.8,"v":0.3},{"s":"a27","t":24,"v":0.15},{"s":"a27","t":25,"v":0.1},{"s":"a27","t":30,"v":0.02},
{"s":"a28","t":0,"v":0.05},{"s":"a28","t":1,"v":0.1},{"s":"a28","t":2,"v":0.05},{"s":"a28","t":3,"v":0.2},{"s":"a28","t":4,"v":0.3},{"s":"a28","t":5,"v":0.3},{"s":"a28","t":6,"v":0.5},{"s":"a28","t":7,"v":0.4},{"s":"a28","t":8,"v":0.5},{"s":"a28","t":9,"v":0.4},{"s":"a28","t":10,"v":0.5},{"s":"a28","t":11,"v":0.4},{"s":"a28","t":12,"v":0.3},{"s":"a28","t":13,"v":0.4},{"s":"a28","t":14,"v":0.3},{"s":"a28","t":15,"v":0.35},{"s":"a28","t":16,"v":0.2},{"s":"a28","t":16.5,"v":0.3},{"s":"a28","t":17,"v":0.6},{"s":"a28","t":18,"v":0.3},{"s":"a28","t":19,"v":0.4},{"s":"a28","t":20,"v":0.9},{"s":"a28","t":20.5,"v":1.9},{"s":"a28","t":20.8,"v":0.2},{"s":"a28","t":21,"v":0.3},{"s":"a28","t":22,"v":0.2},{"s":"a28","t":23,"v":0.1},{"s":"a28","t":30,"v":0.02},
{"s":"a29","t":0,"v":0.05},{"s":"a29","t":0.3,"v":2.4},{"s":"a29","t":0.6,"v":1.5},{"s":"a29","t":1,"v":0.3},{"s":"a29","t":2.0,"v":0.2},{"s":"a29","t":2.5,"v":2.0},{"s":"a29","t":2.9,"v":3.75},{"s":"a29","t":3.3,"v":2.5},{"s":"a29","t":3.8,"v":1.8},{"s":"a29","t":4.3,"v":1.5},{"s":"a29","t":5,"v":1.35},{"s":"a29","t":5.5,"v":1.3},{"s":"a29","t":5.9,"v":1.25},{"s":"a29","t":6.0,"v":0.4},{"s":"a29","t":7,"v":0.6},{"s":"a29","t":8,"v":1.0},{"s":"a29","t":9,"v":0.8},{"s":"a29","t":10,"v":1.7},{"s":"a29","t":10.5,"v":0.5},{"s":"a29","t":11,"v":0.7},{"s":"a29","t":11.5,"v":1.3},{"s":"a29","t":12,"v":0.4},{"s":"a29","t":12.5,"v":0.9},{"s":"a29","t":13,"v":0.1},{"s":"a29","t":13.3,"v":1.0},{"s":"a29","t":13.7,"v":0.2},{"s":"a29","t":14,"v":0.6},{"s":"a29","t":15,"v":0.3},{"s":"a29","t":16,"v":0.5},{"s":"a29","t":16.3,"v":0.2},{"s":"a29","t":17,"v":0.4},{"s":"a29","t":18,"v":0.3},{"s":"a29","t":18.5,"v":0.7},{"s":"a29","t":19,"v":1.0},{"s":"a29","t":19.5,"v":0.3},{"s":"a29","t":20,"v":0.05},{"s":"a29","t":21,"v":0.1},{"s":"a29","t":22,"v":0.3},{"s":"a29","t":23,"v":0.1},{"s":"a29","t":24,"v":0.2},{"s":"a29","t":25,"v":0.1},{"s":"a29","t":27,"v":0.05},{"s":"a29","t":30,"v":0.07},
{"s":"a30","t":0,"v":0.1},{"s":"a30","t":0.4,"v":1.2},{"s":"a30","t":0.8,"v":0.6},{"s":"a30","t":1.2,"v":1.8},{"s":"a30","t":1.6,"v":0.4},{"s":"a30","t":2.2,"v":1.0},{"s":"a30","t":2.8,"v":2.2},{"s":"a30","t":3.2,"v":1.1},{"s":"a30","t":3.8,"v":1.3},{"s":"a30","t":4.4,"v":0.9},{"s":"a30","t":5,"v":1.4},{"s":"a30","t":5.6,"v":1.0},{"s":"a30","t":6.2,"v":1.9},{"s":"a30","t":6.8,"v":1.2},{"s":"a30","t":7.3,"v":1.7},{"s":"a30","t":7.9,"v":0.8},{"s":"a30","t":8.5,"v":1.5},{"s":"a30","t":9.1,"v":0.7},{"s":"a30","t":9.7,"v":1.2},{"s":"a30","t":10.4,"v":0.6},{"s":"a30","t":11,"v":1.0},{"s":"a30","t":11.6,"v":0.5},{"s":"a30","t":12.3,"v":0.9},{"s":"a30","t":13,"v":0.4},{"s":"a30","t":13.6,"v":0.7},{"s":"a30","t":14.3,"v":0.3},{"s":"a30","t":15,"v":0.5},{"s":"a30","t":15.7,"v":0.2},{"s":"a30","t":16.4,"v":0.9},{"s":"a30","t":17,"v":0.4},{"s":"a30","t":17.6,"v":1.3},{"s":"a30","t":18.2,"v":0.5},{"s":"a30","t":18.8,"v":1.5},{"s":"a30","t":19.4,"v":0.6},{"s":"a30","t":20,"v":1.6},{"s":"a30","t":20.6,"v":0.4},{"s":"a30","t":21.2,"v":1.2},{"s":"a30","t":21.8,"v":0.3},{"s":"a30","t":22.4,"v":0.8},{"s":"a30","t":23,"v":0.2},{"s":"a30","t":24,"v":0.1},{"s":"a30","t":30,"v":0.03},
{"s":"a31","t":0,"v":0.05},{"s":"a31","t":0.3,"v":2.0},{"s":"a31","t":0.7,"v":0.8},{"s":"a31","t":1.1,"v":1.3},{"s":"a31","t":1.7,"v":0.3},{"s":"a31","t":2.3,"v":2.8},{"s":"a31","t":2.7,"v":1.5},{"s":"a31","t":3.3,"v":1.9},{"s":"a31","t":3.9,"v":2.0},{"s":"a31","t":4.6,"v":1.6},{"s":"a31","t":5.2,"v":1.8},{"s":"a31","t":5.8,"v":1.5},{"s":"a31","t":6.1,"v":0.4},{"s":"a31","t":6.6,"v":2.2},{"s":"a31","t":7.2,"v":2.0},{"s":"a31","t":7.8,"v":1.4},{"s":"a31","t":8.4,"v":1.6},{"s":"a31","t":9,"v":1.1},{"s":"a31","t":9.6,"v":1.3},{"s":"a31","t":10.3,"v":0.9},{"s":"a31","t":11,"v":1.3},{"s":"a31","t":11.5,"v":0.8},{"s":"a31","t":12.2,"v":1.2},{"s":"a31","t":12.8,"v":0.6},{"s":"a31","t":13.4,"v":1.0},{"s":"a31","t":14,"v":0.5},{"s":"a31","t":14.6,"v":0.8},{"s":"a31","t":15.2,"v":0.3},{"s":"a31","t":16,"v":0.2},{"s":"a31","t":16.6,"v":1.1},{"s":"a31","t":17.2,"v":1.6},{"s":"a31","t":17.8,"v":0.5},{"s":"a31","t":18.5,"v":1.4},{"s":"a31","t":19.1,"v":0.7},{"s":"a31","t":19.7,"v":1.8},{"s":"a31","t":20.3,"v":0.6},{"s":"a31","t":20.9,"v":1.3},{"s":"a31","t":21.5,"v":0.4},{"s":"a31","t":22.1,"v":1.0},{"s":"a31","t":22.7,"v":0.3},{"s":"a31","t":23.3,"v":0.2},{"s":"a31","t":24,"v":0.1},{"s":"a31","t":30,"v":0.02},
{"s":"a32","t":0,"v":0.05},{"s":"a32","t":0.2,"v":1.7},{"s":"a32","t":0.6,"v":2.1},{"s":"a32","t":1,"v":1.2},{"s":"a32","t":1.4,"v":2.0},{"s":"a32","t":1.8,"v":0.6},{"s":"a32","t":2.4,"v":1.4},{"s":"a32","t":3,"v":2.3},{"s":"a32","t":3.6,"v":1.7},{"s":"a32","t":4.2,"v":1.9},{"s":"a32","t":4.8,"v":1.4},{"s":"a32","t":5.4,"v":2.0},{"s":"a32","t":6,"v":1.2},{"s":"a32","t":6.5,"v":1.6},{"s":"a32","t":7.1,"v":1.1},{"s":"a32","t":7.7,"v":1.5},{"s":"a32","t":8.3,"v":0.9},{"s":"a32","t":8.9,"v":1.2},{"s":"a32","t":9.5,"v":0.8},{"s":"a32","t":10.2,"v":1.1},{"s":"a32","t":10.8,"v":0.6},{"s":"a32","t":11.4,"v":0.9},{"s":"a32","t":12,"v":0.4},{"s":"a32","t":12.7,"v":0.8},{"s":"a32","t":13.3,"v":1.3},{"s":"a32","t":13.9,"v":0.5},{"s":"a32","t":14.5,"v":0.3},{"s":"a32","t":15,"v":0.6},{"s":"a32","t":15.6,"v":0.2},{"s":"a32","t":16.3,"v":0.5},{"s":"a32","t":17,"v":1.3},{"s":"a32","t":17.6,"v":0.8},{"s":"a32","t":18.2,"v":1.6},{"s":"a32","t":18.8,"v":0.5},{"s":"a32","t":19.4,"v":1.2},{"s":"a32","t":20,"v":0.6},{"s":"a32","t":20.6,"v":1.7},{"s":"a32","t":21.2,"v":0.7},{"s":"a32","t":21.8,"v":1.1},{"s":"a32","t":22.4,"v":0.3},{"s":"a32","t":23,"v":0.2},{"s":"a32","t":24,"v":0.1},{"s":"a32","t":30,"v":0.02},
{"s":"a33","t":0,"v":0.05},{"s":"a33","t":0.25,"v":1.0},{"s":"a33","t":0.6,"v":2.6},{"s":"a33","t":0.8,"v":1.2},{"s":"a33","t":1.2,"v":0.3},{"s":"a33","t":1.8,"v":0.8},{"s":"a33","t":2.5,"v":1.9},{"s":"a33","t":3.1,"v":0.6},{"s":"a33","t":3.7,"v":2.1},{"s":"a33","t":4.3,"v":0.9},{"s":"a33","t":4.9,"v":1.7},{"s":"a33","t":5.5,"v":0.5},{"s":"a33","t":6.1,"v":1.2},{"s":"a33","t":6.7,"v":2.0},{"s":"a33","t":7.2,"v":0.7},{"s":"a33","t":7.8,"v":1.5},{"s":"a33","t":8.4,"v":0.6},{"s":"a33","t":9,"v":1.3},{"s":"a33","t":9.6,"v":0.4},{"s":"a33","t":10.2,"v":1.0},{"s":"a33","t":10.8,"v":0.3},{"s":"a33","t":11.5,"v":0.7},{"s":"a33","t":12.1,"v":0.2},{"s":"a33","t":12.7,"v":0.6},{"s":"a33","t":13.3,"v":0.2},{"s":"a33","t":14,"v":0.4},{"s":"a33","t":14.6,"v":0.1},{"s":"a33","t":15.3,"v":0.3},{"s":"a33","t":16,"v":0.1},{"s":"a33","t":16.4,"v":1.6},{"s":"a33","t":16.9,"v":2.0},{"s":"a33","t":17.2,"v":0.8},{"s":"a33","t":17.8,"v":1.2},{"s":"a33","t":18.3,"v":0.3},{"s":"a33","t":18.9,"v":1.8},{"s":"a33","t":19.3,"v":0.4},{"s":"a33","t":19.9,"v":1.5},{"s":"a33","t":20.4,"v":0.3},{"s":"a33","t":21,"v":1.1},{"s":"a33","t":21.6,"v":0.2},{"s":"a33","t":22.2,"v":0.9},{"s":"a33","t":22.8,"v":0.2},{"s":"a33","t":23.5,"v":0.1},{"s":"a33","t":30,"v":0.02},
{"s":"a34","t":0,"v":0.05},{"s":"a34","t":0.3,"v":0.9},{"s":"a34","t":0.9,"v":1.4},{"s":"a34","t":1.5,"v":0.6},{"s":"a34","t":2.1,"v":1.1},{"s":"a34","t":2.7,"v":0.4},{"s":"a34","t":3.3,"v":1.0},{"s":"a34","t":3.9,"v":1.3},{"s":"a34","t":4.5,"v":0.7},{"s":"a34","t":5.1,"v":1.0},{"s":"a34","t":5.7,"v":0.6},{"s":"a34","t":6.3,"v":1.4},{"s":"a34","t":6.9,"v":0.9},{"s":"a34","t":7.5,"v":1.2},{"s":"a34","t":8.1,"v":0.6},{"s":"a34","t":8.7,"v":1.0},{"s":"a34","t":9.3,"v":0.5},{"s":"a34","t":9.9,"v":0.8},{"s":"a34","t":10.5,"v":0.4},{"s":"a34","t":11.1,"v":0.7},{"s":"a34","t":11.7,"v":0.3},{"s":"a34","t":12.3,"v":1.2},{"s":"a34","t":12.7,"v":1.6},{"s":"a34","t":13,"v":0.4},{"s":"a34","t":13.6,"v":0.6},{"s":"a34","t":14.2,"v":0.2},{"s":"a34","t":14.8,"v":0.4},{"s":"a34","t":15.4,"v":0.1},{"s":"a34","t":16.2,"v":1.1},{"s":"a34","t":16.8,"v":0.5},{"s":"a34","t":17.4,"v":1.2},{"s":"a34","t":18,"v":0.6},{"s":"a34","t":18.6,"v":1.4},{"s":"a34","t":19.2,"v":0.4},{"s":"a34","t":19.8,"v":1.1},{"s":"a34","t":20.4,"v":0.5},{"s":"a34","t":21,"v":1.3},{"s":"a34","t":21.6,"v":0.6},{"s":"a34","t":22.2,"v":1.5},{"s":"a34","t":22.6,"v":2.3},{"s":"a34","t":22.9,"v":0.4},{"s":"a34","t":23.5,"v":0.1},{"s":"a34","t":30,"v":0.02},
{"s":"a35","t":0,"v":0.05},{"s":"a35","t":0.4,"v":2.0},{"s":"a35","t":0.8,"v":1.1},{"s":"a35","t":1.3,"v":1.7},{"s":"a35","t":1.9,"v":0.9},{"s":"a35","t":2.5,"v":2.6},{"s":"a35","t":3,"v":1.2},{"s":"a35","t":3.6,"v":1.5},{"s":"a35","t":4.2,"v":1.1},{"s":"a35","t":4.8,"v":1.6},{"s":"a35","t":5.4,"v":1.0},{"s":"a35","t":6,"v":1.5},{"s":"a35","t":6.5,"v":2.6},{"s":"a35","t":6.9,"v":1.3},{"s":"a35","t":7.5,"v":1.6},{"s":"a35","t":8.1,"v":1.0},{"s":"a35","t":8.7,"v":1.4},{"s":"a35","t":9.3,"v":0.8},{"s":"a35","t":9.9,"v":1.1},{"s":"a35","t":10.5,"v":0.6},{"s":"a35","t":11.1,"v":0.9},{"s":"a35","t":11.7,"v":0.4},{"s":"a35","t":12.3,"v":0.8},{"s":"a35","t":12.9,"v":1.4},{"s":"a35","t":13.3,"v":0.5},{"s":"a35","t":13.9,"v":0.7},{"s":"a35","t":14.5,"v":0.3},{"s":"a35","t":15.1,"v":0.5},{"s":"a35","t":15.7,"v":0.2},{"s":"a35","t":16.4,"v":1.4},{"s":"a35","t":17,"v":0.7},{"s":"a35","t":17.6,"v":1.1},{"s":"a35","t":18.2,"v":0.5},{"s":"a35","t":18.8,"v":1.3},{"s":"a35","t":19.4,"v":0.8},{"s":"a35","t":20,"v":1.5},{"s":"a35","t":20.6,"v":0.7},{"s":"a35","t":21.2,"v":1.4},{"s":"a35","t":21.8,"v":0.6},{"s":"a35","t":22.4,"v":1.2},{"s":"a35","t":23,"v":0.5},{"s":"a35","t":23.4,"v":1.0},{"s":"a35","t":23.8,"v":0.2},{"s":"a35","t":24.5,"v":0.1},{"s":"a35","t":30,"v":0.02},
{"s":"a36","t":0,"v":0.05},{"s":"a36","t":0.3,"v":0.7},{"s":"a36","t":0.8,"v":1.4},{"s":"a36","t":1.4,"v":0.5},{"s":"a36","t":2,"v":1.2},{"s":"a36","t":2.6,"v":0.7},{"s":"a36","t":3.2,"v":1.6},{"s":"a36","t":3.8,"v":1.2},{"s":"a36","t":4.4,"v":1.5},{"s":"a36","t":5,"v":1.1},{"s":"a36","t":5.6,"v":1.3},{"s":"a36","t":6.2,"v":0.8},{"s":"a36","t":6.8,"v":1.6},{"s":"a36","t":7.4,"v":1.2},{"s":"a36","t":8,"v":1.8},{"s":"a36","t":8.6,"v":1.1},{"s":"a36","t":9.2,"v":1.4},{"s":"a36","t":9.8,"v":0.7},{"s":"a36","t":10.4,"v":1.0},{"s":"a36","t":11,"v":0.5},{"s":"a36","t":11.6,"v":0.8},{"s":"a36","t":12.2,"v":0.4},{"s":"a36","t":12.8,"v":0.7},{"s":"a36","t":13.4,"v":0.3},{"s":"a36","t":14,"v":0.5},{"s":"a36","t":14.6,"v":0.2},{"s":"a36","t":15.2,"v":0.3},{"s":"a36","t":16,"v":0.1},{"s":"a36","t":16.6,"v":0.8},{"s":"a36","t":17.2,"v":1.4},{"s":"a36","t":17.8,"v":0.6},{"s":"a36","t":18.4,"v":1.2},{"s":"a36","t":19,"v":0.4},{"s":"a36","t":19.6,"v":1.0},{"s":"a36","t":20.2,"v":0.5},{"s":"a36","t":20.8,"v":1.1},{"s":"a36","t":21.4,"v":0.4},{"s":"a36","t":22,"v":0.7},{"s":"a36","t":22.6,"v":0.2},{"s":"a36","t":23.2,"v":0.1},{"s":"a36","t":30,"v":0.02},
{"s":"a37","t":0,"v":0.05},{"s":"a37","t":0.4,"v":1.0},{"s":"a37","t":1,"v":1.5},{"s":"a37","t":1.6,"v":0.8},{"s":"a37","t":2.2,"v":1.2},{"s":"a37","t":2.8,"v":0.9},{"s":"a37","t":3.4,"v":1.2},{"s":"a37","t":4,"v":0.9},{"s":"a37","t":4.6,"v":1.1},{"s":"a37","t":5.2,"v":0.8},{"s":"a37","t":5.8,"v":1.0},{"s":"a37","t":6.4,"v":1.3},{"s":"a37","t":7,"v":1.0},{"s":"a37","t":7.6,"v":1.2},{"s":"a37","t":8.2,"v":0.9},{"s":"a37","t":8.8,"v":1.1},{"s":"a37","t":9.4,"v":0.8},{"s":"a37","t":10,"v":1.0},{"s":"a37","t":10.6,"v":0.7},{"s":"a37","t":11.2,"v":0.9},{"s":"a37","t":11.8,"v":0.6},{"s":"a37","t":12.4,"v":0.8},{"s":"a37","t":13,"v":0.5},{"s":"a37","t":13.6,"v":0.7},{"s":"a37","t":14.2,"v":0.4},{"s":"a37","t":14.8,"v":0.5},{"s":"a37","t":15.4,"v":0.3},{"s":"a37","t":16,"v":0.2},{"s":"a37","t":16.6,"v":0.6},{"s":"a37","t":17.2,"v":0.4},{"s":"a37","t":17.8,"v":0.8},{"s":"a37","t":18.4,"v":0.5},{"s":"a37","t":19,"v":0.9},{"s":"a37","t":19.6,"v":0.6},{"s":"a37","t":20.2,"v":1.0},{"s":"a37","t":20.8,"v":0.5},{"s":"a37","t":21.4,"v":0.9},{"s":"a37","t":22,"v":0.6},{"s":"a37","t":22.6,"v":1.1},{"s":"a37","t":23.1,"v":0.9},{"s":"a37","t":23.6,"v":0.4},{"s":"a37","t":24,"v":0.2},{"s":"a37","t":25,"v":0.1},{"s":"a37","t":30,"v":0.02},
{"s":"a38","t":0,"v":0.05},{"s":"a38","t":0.5,"v":0.5},{"s":"a38","t":1.1,"v":0.9},{"s":"a38","t":1.7,"v":0.4},{"s":"a38","t":2.3,"v":0.7},{"s":"a38","t":2.9,"v":1.6},{"s":"a38","t":3.5,"v":1.2},{"s":"a38","t":4.1,"v":1.6},{"s":"a38","t":4.7,"v":1.3},{"s":"a38","t":5.3,"v":1.7},{"s":"a38","t":5.9,"v":1.4},{"s":"a38","t":6.5,"v":1.9},{"s":"a38","t":7.1,"v":1.5},{"s":"a38","t":7.7,"v":2.0},{"s":"a38","t":8.3,"v":1.5},{"s":"a38","t":8.9,"v":1.7},{"s":"a38","t":9.5,"v":1.3},{"s":"a38","t":10.1,"v":1.5},{"s":"a38","t":10.7,"v":1.0},{"s":"a38","t":11.3,"v":1.2},{"s":"a38","t":11.9,"v":0.8},{"s":"a38","t":12.5,"v":1.0},{"s":"a38","t":13.1,"v":0.6},{"s":"a38","t":13.7,"v":0.8},{"s":"a38","t":14.3,"v":0.4},{"s":"a38","t":14.9,"v":0.5},{"s":"a38","t":15.5,"v":0.3},{"s":"a38","t":16.1,"v":0.2},{"s":"a38","t":16.7,"v":0.7},{"s":"a38","t":17.3,"v":1.0},{"s":"a38","t":17.9,"v":0.4},{"s":"a38","t":18.5,"v":0.9},{"s":"a38","t":19.1,"v":1.5},{"s":"a38","t":19.7,"v":0.6},{"s":"a38","t":20.3,"v":1.2},{"s":"a38","t":20.9,"v":0.5},{"s":"a38","t":21.5,"v":0.9},{"s":"a38","t":22.1,"v":0.4},{"s":"a38","t":22.5,"v":1.6},{"s":"a38","t":22.8,"v":0.3},{"s":"a38","t":23.4,"v":0.1},{"s":"a38","t":30,"v":0.02},
{"s":"a39","t":0,"v":0.05},{"s":"a39","t":0.4,"v":0.6},{"s":"a39","t":1,"v":1.1},{"s":"a39","t":1.6,"v":0.4},{"s":"a39","t":2.2,"v":0.9},{"s":"a39","t":2.8,"v":0.5},{"s":"a39","t":3.4,"v":1.4},{"s":"a39","t":4,"v":1.0},{"s":"a39","t":4.6,"v":1.3},{"s":"a39","t":5.2,"v":0.9},{"s":"a39","t":5.8,"v":1.2},{"s":"a39","t":6.4,"v":0.7},{"s":"a39","t":7,"v":1.2},{"s":"a39","t":7.6,"v":0.8},{"s":"a39","t":8.2,"v":1.4},{"s":"a39","t":8.8,"v":0.9},{"s":"a39","t":9.4,"v":1.7},{"s":"a39","t":9.8,"v":0.6},{"s":"a39","t":10.4,"v":1.3},{"s":"a39","t":11,"v":0.5},{"s":"a39","t":11.6,"v":1.0},{"s":"a39","t":12.2,"v":0.3},{"s":"a39","t":12.8,"v":0.8},{"s":"a39","t":13.4,"v":0.2},{"s":"a39","t":14,"v":0.9},{"s":"a39","t":14.6,"v":0.3},{"s":"a39","t":15.2,"v":0.6},{"s":"a39","t":15.8,"v":0.2},{"s":"a39","t":16.4,"v":0.7},{"s":"a39","t":17,"v":0.3},{"s":"a39","t":17.6,"v":0.9},{"s":"a39","t":18.2,"v":0.4},{"s":"a39","t":18.8,"v":1.0},{"s":"a39","t":19.4,"v":0.5},{"s":"a39","t":20,"v":1.4},{"s":"a39","t":20.6,"v":0.6},{"s":"a39","t":21,"v":1.8},{"s":"a39","t":21.4,"v":0.5},{"s":"a39","t":22,"v":0.4},{"s":"a39","t":22.6,"v":1.0},{"s":"a39","t":23.2,"v":0.3},{"s":"a39","t":24,"v":0.5},{"s":"a39","t":24.5,"v":0.2},{"s":"a39","t":25,"v":0.1},{"s":"a39","t":30,"v":0.05}
],
"speed": [
{"s":"b00","t":0,"v":11},{"s":"b00","t":0.05,"v":29},{"s":"b00","t":0.3,"v":28.5},{"s":"b00","t":0.6,"v":28},{"s":"b00","t":0.95,"v":27.5},{"s":"b00","t":1.0,"v":24},{"s":"b00","t":1.1,"v":23},{"s":"b00","t":1.5,"v":23.5},{"s":"b00","t":1.9,"v":22.5},{"s":"b00","t":2.0,"v":22},{"s":"b00","t":2.2,"v":20.5},{"s":"b00","t":2.6,"v":21},{"s":"b00","t":3.0,"v":21.5},{"s":"b00","t":3.3,"v":21},{"s":"b00","t":3.6,"v":20.5},{"s":"b00","t":3.7,"v":7},{"s":"b00","t":3.8,"v":5},{"s":"b00","t":4.0,"v":8},{"s":"b00","t":4.2,"v":5.5},{"s":"b00","t":4.5,"v":7.5},{"s":"b00","t":4.8,"v":6},{"s":"b00","t":5.0,"v":8.5},{"s":"b00","t":5.2,"v":5.5},{"s":"b00","t":5.5,"v":7},{"s":"b00","t":5.7,"v":5.5},{"s":"b00","t":5.85,"v":6.5},{"s":"b00","t":5.9,"v":20},{"s":"b00","t":6.1,"v":17},{"s":"b00","t":6.5,"v":17.5},{"s":"b00","t":7.0,"v":17},{"s":"b00","t":7.5,"v":17},{"s":"b00","t":8.0,"v":17},{"s":"b00","t":8.2,"v":15.5},{"s":"b00","t":8.6,"v":15},{"s":"b00","t":9.0,"v":15.5},{"s":"b00","t":9.5,"v":14.5},{"s":"b00","t":10,"v":15},{"s":"b00","t":10.5,"v":15},{"s":"b00","t":10.95,"v":15.5},{"s":"b00","t":11.0,"v":5},{"s":"b00","t":11.3,"v":7},{"s":"b00","t":11.6,"v":9.5},{"s":"b00","t":11.9,"v":10},{"s":"b00","t":12.0,"v":15.5},{"s":"b00","t":12.5,"v":16},{"s":"b00","t":13,"v":16.5},{"s":"b00","t":13.3,"v":15.5},{"s":"b00","t":13.8,"v":15},{"s":"b00","t":14.2,"v":15.5},{"s":"b00","t":14.6,"v":15},{"s":"b00","t":15.0,"v":15},{"s":"b00","t":15.2,"v":13},{"s":"b00","t":15.5,"v":12.5},{"s":"b00","t":15.95,"v":12.5},{"s":"b00","t":16.05,"v":5},{"s":"b00","t":16.9,"v":5.2},{"s":"b00","t":17.0,"v":6.5},{"s":"b00","t":18,"v":6.3},{"s":"b00","t":19,"v":6.2},{"s":"b00","t":20,"v":6},{"s":"b00","t":21,"v":5.8},{"s":"b00","t":21.05,"v":4.0},{"s":"b00","t":22,"v":3.8},{"s":"b00","t":23,"v":2.8},{"s":"b00","t":23.9,"v":2.4},{"s":"b00","t":24,"v":0},{"s":"b00","t":24.5,"v":0.5},{"s":"b00","t":25,"v":0.8},{"s":"b00","t":25.5,"v":0.4},{"s":"b00","t":26,"v":0.7},{"s":"b00","t":26.5,"v":0.3},{"s":"b00","t":27,"v":0.5},{"s":"b00","t":27.2,"v":0},{"s":"b00","t":29.4,"v":0},{"s":"b00","t":29.6,"v":1.2},{"s":"b00","t":29.8,"v":0.3},{"s":"b00","t":30,"v":0.8},
{"s":"b01","t":0,"v":11},{"s":"b01","t":0.05,"v":39},{"s":"b01","t":0.3,"v":38},{"s":"b01","t":0.6,"v":37.5},{"s":"b01","t":0.9,"v":37},{"s":"b01","t":1.0,"v":36},{"s":"b01","t":1.2,"v":34.5},{"s":"b01","t":1.5,"v":34},{"s":"b01","t":1.9,"v":33.5},{"s":"b01","t":2.0,"v":32.5},{"s":"b01","t":2.2,"v":29},{"s":"b01","t":2.7,"v":29.5},{"s":"b01","t":3.0,"v":29.5},{"s":"b01","t":3.3,"v":28},{"s":"b01","t":3.6,"v":27},{"s":"b01","t":3.7,"v":11},{"s":"b01","t":4.0,"v":10},{"s":"b01","t":4.5,"v":11.5},{"s":"b01","t":5.0,"v":9.5},{"s":"b01","t":5.5,"v":10.5},{"s":"b01","t":5.85,"v":9},{"s":"b01","t":5.9,"v":28},{"s":"b01","t":6.1,"v":24},{"s":"b01","t":7.0,"v":24},{"s":"b01","t":7.5,"v":23.5},{"s":"b01","t":8.0,"v":23.5},{"s":"b01","t":8.1,"v":20.5},{"s":"b01","t":9.0,"v":20},{"s":"b01","t":10.0,"v":20},{"s":"b01","t":10.95,"v":20.5},{"s":"b01","t":11.0,"v":7},{"s":"b01","t":11.3,"v":12},{"s":"b01","t":11.9,"v":14},{"s":"b01","t":12.0,"v":20.5},{"s":"b01","t":13.0,"v":21},{"s":"b01","t":14.0,"v":20},{"s":"b01","t":15.0,"v":20},{"s":"b01","t":15.2,"v":18.5},{"s":"b01","t":15.5,"v":15.5},{"s":"b01","t":15.95,"v":14.5},{"s":"b01","t":16.05,"v":5.5},{"s":"b01","t":16.9,"v":5.8},{"s":"b01","t":17.0,"v":7.8},{"s":"b01","t":18,"v":7.8},{"s":"b01","t":19,"v":7.5},{"s":"b01","t":20,"v":7.3},{"s":"b01","t":21,"v":7.0},{"s":"b01","t":21.05,"v":4.3},{"s":"b01","t":22,"v":4},{"s":"b01","t":22.5,"v":3.3},{"s":"b01","t":23,"v":2.8},{"s":"b01","t":23.9,"v":2.5},{"s":"b01","t":24.0,"v":0.5},{"s":"b01","t":24.5,"v":0.8},{"s":"b01","t":25,"v":1.0},{"s":"b01","t":25.5,"v":0.6},{"s":"b01","t":26,"v":0.8},{"s":"b01","t":26.5,"v":0.5},{"s":"b01","t":27,"v":0.4},{"s":"b01","t":27.1,"v":0},{"s":"b01","t":30,"v":0},
{"s":"b02","t":0,"v":12},{"s":"b02","t":0.05,"v":42.5},{"s":"b02","t":0.15,"v":30},{"s":"b02","t":0.25,"v":23},{"s":"b02","t":0.35,"v":30},{"s":"b02","t":0.6,"v":30.5},{"s":"b02","t":0.95,"v":29.5},{"s":"b02","t":1.0,"v":16},{"s":"b02","t":1.05,"v":39.5},{"s":"b02","t":1.3,"v":37.5},{"s":"b02","t":1.7,"v":37},{"s":"b02","t":2.0,"v":36},{"s":"b02","t":2.15,"v":32.5},{"s":"b02","t":2.5,"v":31.5},{"s":"b02","t":3.0,"v":32},{"s":"b02","t":3.3,"v":30.5},{"s":"b02","t":3.6,"v":28},{"s":"b02","t":3.7,"v":12},{"s":"b02","t":4.0,"v":13.5},{"s":"b02","t":4.5,"v":12.5},{"s":"b02","t":5.0,"v":13.5},{"s":"b02","t":5.5,"v":12},{"s":"b02","t":5.8,"v":11},{"s":"b02","t":5.9,"v":30.5},{"s":"b02","t":6.1,"v":24.5},{"s":"b02","t":7.0,"v":24.5},{"s":"b02","t":7.5,"v":24},{"s":"b02","t":8.0,"v":23.5},{"s":"b02","t":8.1,"v":21.5},{"s":"b02","t":9.0,"v":21},{"s":"b02","t":10.0,"v":20.5},{"s":"b02","t":10.5,"v":21},{"s":"b02","t":10.95,"v":21},{"s":"b02","t":11.0,"v":7.5},{"s":"b02","t":11.3,"v":13},{"s":"b02","t":11.6,"v":14},{"s":"b02","t":11.9,"v":13.5},{"s":"b02","t":12.0,"v":21.5},{"s":"b02","t":12.5,"v":20.5},{"s":"b02","t":13.0,"v":20.5},{"s":"b02","t":13.3,"v":22},{"s":"b02","t":13.5,"v":20},{"s":"b02","t":14.0,"v":20.5},{"s":"b02","t":14.5,"v":21},{"s":"b02","t":15.0,"v":21.5},{"s":"b02","t":15.2,"v":19.5},{"s":"b02","t":15.5,"v":16},{"s":"b02","t":15.95,"v":16.5},{"s":"b02","t":16.05,"v":4.5},{"s":"b02","t":16.2,"v":6},{"s":"b02","t":16.9,"v":6},{"s":"b02","t":17.0,"v":8},{"s":"b02","t":17.5,"v":7.5},{"s":"b02","t":18.5,"v":7.3},{"s":"b02","t":19.5,"v":7},{"s":"b02","t":20.5,"v":6.8},{"s":"b02","t":21.0,"v":6.5},{"s":"b02","t":21.05,"v":4.5},{"s":"b02","t":22.0,"v":4.2},{"s":"b02","t":22.5,"v":3.5},{"s":"b02","t":23.0,"v":3.0},{"s":"b02","t":23.9,"v":2.5},{"s":"b02","t":24.0,"v":0.2},{"s":"b02","t":24.5,"v":0.4},{"s":"b02","t":25,"v":0.5},{"s":"b02","t":25.5,"v":0.3},{"s":"b02","t":26,"v":0.6},{"s":"b02","t":26.5,"v":0.3},{"s":"b02","t":27.2,"v":0.3},{"s":"b02","t":27.3,"v":0},{"s":"b02","t":30,"v":0},
{"s":"b04","t":0,"v":11},{"s":"b04","t":0.05,"v":32.5},{"s":"b04","t":0.3,"v":32},{"s":"b04","t":0.6,"v":31.5},{"s":"b04","t":0.95,"v":31},{"s":"b04","t":1.0,"v":28},{"s":"b04","t":1.5,"v":27},{"s":"b04","t":1.9,"v":26.5},{"s":"b04","t":2.0,"v":26},{"s":"b04","t":2.2,"v":25},{"s":"b04","t":3,"v":25.5},{"s":"b04","t":3.3,"v":23.5},{"s":"b04","t":3.6,"v":23},{"s":"b04","t":3.7,"v":9},{"s":"b04","t":4,"v":9},{"s":"b04","t":5,"v":9.5},{"s":"b04","t":5.85,"v":9},{"s":"b04","t":5.9,"v":24},{"s":"b04","t":6.1,"v":20.5},{"s":"b04","t":7,"v":20.5},{"s":"b04","t":8,"v":20},{"s":"b04","t":8.1,"v":17.5},{"s":"b04","t":9,"v":17},{"s":"b04","t":10,"v":17},{"s":"b04","t":10.95,"v":17.5},{"s":"b04","t":11,"v":6},{"s":"b04","t":11.3,"v":10},{"s":"b04","t":11.9,"v":12},{"s":"b04","t":12,"v":17.5},{"s":"b04","t":13,"v":17.5},{"s":"b04","t":14,"v":17},{"s":"b04","t":15,"v":17},{"s":"b04","t":15.2,"v":14.5},{"s":"b04","t":15.5,"v":13.5},{"s":"b04","t":15.95,"v":8},{"s":"b04","t":16.05,"v":5.5},{"s":"b04","t":16.9,"v":5.5},{"s":"b04","t":17,"v":7},{"s":"b04","t":18,"v":6.8},{"s":"b04","t":19,"v":6.6},{"s":"b04","t":20,"v":6.4},{"s":"b04","t":21,"v":6.1},{"s":"b04","t":21.05,"v":4},{"s":"b04","t":22,"v":3.8},{"s":"b04","t":23,"v":2.8},{"s":"b04","t":23.9,"v":2.5},{"s":"b04","t":24,"v":0.2},{"s":"b04","t":25,"v":0.3},{"s":"b04","t":26,"v":0.5},{"s":"b04","t":26.6,"v":0.4},{"s":"b04","t":26.7,"v":0},{"s":"b04","t":30,"v":0},
{"s":"b05","t":0,"v":0},{"s":"b05","t":1.95,"v":0},{"s":"b05","t":2.0,"v":3},{"s":"b05","t":2.1,"v":3.8},{"s":"b05","t":2.4,"v":3.5},{"s":"b05","t":2.6,"v":3.3},{"s":"b05","t":2.7,"v":3.9},{"s":"b05","t":2.85,"v":4},{"s":"b05","t":2.9,"v":0},{"s":"b05","t":5.8,"v":0},{"s":"b05","t":5.85,"v":3},{"s":"b05","t":6.0,"v":4.2},{"s":"b05","t":6.2,"v":4.5},{"s":"b05","t":6.4,"v":4.8},{"s":"b05","t":6.6,"v":4.6},{"s":"b05","t":6.65,"v":0},{"s":"b05","t":6.95,"v":0},{"s":"b05","t":7.0,"v":3.5},{"s":"b05","t":7.2,"v":4.6},{"s":"b05","t":7.4,"v":4.2},{"s":"b05","t":7.6,"v":4.5},{"s":"b05","t":7.65,"v":0},{"s":"b05","t":8.2,"v":0},{"s":"b05","t":8.25,"v":3.5},{"s":"b05","t":8.5,"v":3.8},{"s":"b05","t":8.8,"v":3.5},{"s":"b05","t":8.85,"v":0},{"s":"b05","t":9.45,"v":0},{"s":"b05","t":9.5,"v":4.2},{"s":"b05","t":9.8,"v":4},{"s":"b05","t":9.85,"v":0},{"s":"b05","t":10.3,"v":0},{"s":"b05","t":10.35,"v":3.5},{"s":"b05","t":10.6,"v":3.7},{"s":"b05","t":11.0,"v":3.3},{"s":"b05","t":11.05,"v":0},{"s":"b05","t":11.95,"v":0},{"s":"b05","t":12.0,"v":6},{"s":"b05","t":12.2,"v":7},{"s":"b05","t":12.5,"v":6.5},{"s":"b05","t":12.7,"v":5.5},{"s":"b05","t":12.75,"v":0},{"s":"b05","t":13.35,"v":0},{"s":"b05","t":13.4,"v":3.5},{"s":"b05","t":13.6,"v":4.2},{"s":"b05","t":14.0,"v":3.8},{"s":"b05","t":14.05,"v":0},{"s":"b05","t":14.75,"v":0},{"s":"b05","t":14.8,"v":2},{"s":"b05","t":15.1,"v":2.2},{"s":"b05","t":15.2,"v":5},{"s":"b05","t":15.3,"v":3},{"s":"b05","t":15.35,"v":0},{"s":"b05","t":16.15,"v":0},{"s":"b05","t":16.2,"v":1.5},{"s":"b05","t":16.5,"v":2},{"s":"b05","t":16.8,"v":1.8},{"s":"b05","t":16.85,"v":0},{"s":"b05","t":17.75,"v":0},{"s":"b05","t":17.8,"v":1.3},{"s":"b05","t":18.2,"v":1.6},{"s":"b05","t":18.6,"v":1.5},{"s":"b05","t":18.65,"v":0},{"s":"b05","t":19.3,"v":0},{"s":"b05","t":19.35,"v":0.6},{"s":"b05","t":20.0,"v":0.6},{"s":"b05","t":20.2,"v":1.2},{"s":"b05","t":20.6,"v":1.0},{"s":"b05","t":21.0,"v":1.3},{"s":"b05","t":21.5,"v":1.0},{"s":"b05","t":22.0,"v":1.1},{"s":"b05","t":22.4,"v":1.0},{"s":"b05","t":22.8,"v":0.8},{"s":"b05","t":22.85,"v":0},{"s":"b05","t":23.0,"v":0},{"s":"b05","t":23.05,"v":0.8},{"s":"b05","t":23.2,"v":0.8},{"s":"b05","t":23.25,"v":0},{"s":"b05","t":30,"v":0},
{"s":"b07","t":0,"v":13},{"s":"b07","t":0.05,"v":42},{"s":"b07","t":0.15,"v":45},{"s":"b07","t":0.3,"v":43},{"s":"b07","t":0.4,"v":45},{"s":"b07","t":0.55,"v":42.5},{"s":"b07","t":0.8,"v":42.5},{"s":"b07","t":0.95,"v":42},{"s":"b07","t":1.0,"v":44},{"s":"b07","t":1.05,"v":33},{"s":"b07","t":1.4,"v":33.5},{"s":"b07","t":1.8,"v":34},{"s":"b07","t":2.0,"v":35},{"s":"b07","t":2.1,"v":33},{"s":"b07","t":2.5,"v":34.5},{"s":"b07","t":2.8,"v":35.5},{"s":"b07","t":3.0,"v":37.5},{"s":"b07","t":3.15,"v":35},{"s":"b07","t":3.25,"v":31},{"s":"b07","t":3.6,"v":31},{"s":"b07","t":3.7,"v":17},{"s":"b07","t":3.9,"v":18},{"s":"b07","t":4.1,"v":16},{"s":"b07","t":4.2,"v":19},{"s":"b07","t":4.5,"v":17},{"s":"b07","t":4.8,"v":17.5},{"s":"b07","t":5.0,"v":14},{"s":"b07","t":5.1,"v":18},{"s":"b07","t":5.4,"v":17},{"s":"b07","t":5.6,"v":18.5},{"s":"b07","t":5.85,"v":18},{"s":"b07","t":5.95,"v":37.5},{"s":"b07","t":6.05,"v":31},{"s":"b07","t":6.3,"v":29},{"s":"b07","t":6.7,"v":28.5},{"s":"b07","t":7.0,"v":29.5},{"s":"b07","t":7.2,"v":30},{"s":"b07","t":7.5,"v":28.5},{"s":"b07","t":7.8,"v":28},{"s":"b07","t":8.0,"v":27},{"s":"b07","t":8.1,"v":25},{"s":"b07","t":8.5,"v":24.5},{"s":"b07","t":9.0,"v":24},{"s":"b07","t":9.5,"v":23.5},{"s":"b07","t":9.8,"v":24.5},{"s":"b07","t":10.0,"v":25},{"s":"b07","t":10.5,"v":25.5},{"s":"b07","t":10.9,"v":25.5},{"s":"b07","t":11.0,"v":13},{"s":"b07","t":11.2,"v":16},{"s":"b07","t":11.4,"v":17},{"s":"b07","t":11.6,"v":18},{"s":"b07","t":11.8,"v":23},{"s":"b07","t":12.1,"v":24},{"s":"b07","t":12.3,"v":22},{"s":"b07","t":12.6,"v":23},{"s":"b07","t":12.9,"v":23},{"s":"b07","t":13.0,"v":27.5},{"s":"b07","t":13.2,"v":25},{"s":"b07","t":13.4,"v":24},{"s":"b07","t":13.6,"v":26},{"s":"b07","t":13.8,"v":24.5},{"s":"b07","t":14.2,"v":24},{"s":"b07","t":14.6,"v":24.5},{"s":"b07","t":15.0,"v":25},{"s":"b07","t":15.2,"v":22},{"s":"b07","t":15.5,"v":20.5},{"s":"b07","t":15.8,"v":20.5},{"s":"b07","t":15.95,"v":19.5},{"s":"b07","t":16.0,"v":7},{"s":"b07","t":16.5,"v":7},{"s":"b07","t":16.95,"v":6.8},{"s":"b07","t":17.0,"v":10.5},{"s":"b07","t":17.2,"v":9},{"s":"b07","t":17.5,"v":9},{"s":"b07","t":18.0,"v":8.8},{"s":"b07","t":18.5,"v":9.3},{"s":"b07","t":19.0,"v":9.0},{"s":"b07","t":19.5,"v":9.3},{"s":"b07","t":19.9,"v":9.5},{"s":"b07","t":20.05,"v":10.8},{"s":"b07","t":20.3,"v":9.2},{"s":"b07","t":20.8,"v":8.5},{"s":"b07","t":21.0,"v":8.2},{"s":"b07","t":21.05,"v":5.2},{"s":"b07","t":21.5,"v":5},{"s":"b07","t":22.0,"v":4.6},{"s":"b07","t":22.5,"v":4.2},{"s":"b07","t":23.0,"v":3.8},{"s":"b07","t":23.5,"v":3.0},{"s":"b07","t":23.9,"v":3.0},{"s":"b07","t":24.0,"v":0.3},{"s":"b07","t":24.5,"v":0},{"s":"b07","t":30,"v":0},
{"s":"b08","t":0,"v":11},{"s":"b08","t":0.05,"v":33},{"s":"b08","t":0.3,"v":32.5},{"s":"b08","t":0.6,"v":32},{"s":"b08","t":0.95,"v":32},{"s":"b08","t":1.0,"v":29.5},{"s":"b08","t":1.5,"v":29.5},{"s":"b08","t":1.9,"v":29},{"s":"b08","t":2.0,"v":28},{"s":"b08","t":2.2,"v":26},{"s":"b08","t":3,"v":26.5},{"s":"b08","t":3.3,"v":24.5},{"s":"b08","t":3.6,"v":24},{"s":"b08","t":3.7,"v":9},{"s":"b08","t":4,"v":9.5},{"s":"b08","t":4.5,"v":9},{"s":"b08","t":5,"v":10},{"s":"b08","t":5.5,"v":9},{"s":"b08","t":5.85,"v":9},{"s":"b08","t":5.9,"v":24.5},{"s":"b08","t":6.1,"v":21},{"s":"b08","t":7,"v":21},{"s":"b08","t":8,"v":20.5},{"s":"b08","t":8.1,"v":18},{"s":"b08","t":9,"v":17.5},{"s":"b08","t":10,"v":17.5},{"s":"b08","t":10.95,"v":18},{"s":"b08","t":11,"v":6},{"s":"b08","t":11.3,"v":10},{"s":"b08","t":11.9,"v":12},{"s":"b08","t":12,"v":18},{"s":"b08","t":13,"v":18},{"s":"b08","t":14,"v":17.5},{"s":"b08","t":15,"v":17.5},{"s":"b08","t":15.2,"v":15},{"s":"b08","t":15.5,"v":14},{"s":"b08","t":15.95,"v":13.5},{"s":"b08","t":16.05,"v":5.5},{"s":"b08","t":16.9,"v":5.5},{"s":"b08","t":17,"v":7},{"s":"b08","t":18,"v":6.9},{"s":"b08","t":19,"v":6.7},{"s":"b08","t":20,"v":6.5},{"s":"b08","t":21,"v":6.2},{"s":"b08","t":21.05,"v":4.1},{"s":"b08","t":22,"v":3.9},{"s":"b08","t":23,"v":2.9},{"s":"b08","t":23.9,"v":2.5},{"s":"b08","t":24,"v":0},{"s":"b08","t":30,"v":0},
{"s":"b09","t":0,"v":12},{"s":"b09","t":0.05,"v":35},{"s":"b09","t":0.3,"v":34.5},{"s":"b09","t":0.6,"v":34},{"s":"b09","t":0.95,"v":33.5},{"s":"b09","t":1.0,"v":31},{"s":"b09","t":1.5,"v":31.5},{"s":"b09","t":1.9,"v":31},{"s":"b09","t":2.0,"v":30},{"s":"b09","t":2.2,"v":27.5},{"s":"b09","t":3.0,"v":28},{"s":"b09","t":3.3,"v":26},{"s":"b09","t":3.6,"v":25},{"s":"b09","t":3.7,"v":9.5},{"s":"b09","t":4,"v":10.5},{"s":"b09","t":4.5,"v":9},{"s":"b09","t":5,"v":10},{"s":"b09","t":5.5,"v":9.5},{"s":"b09","t":5.85,"v":9},{"s":"b09","t":5.9,"v":26},{"s":"b09","t":6.1,"v":22},{"s":"b09","t":7,"v":22},{"s":"b09","t":7.5,"v":22},{"s":"b09","t":8.0,"v":21.5},{"s":"b09","t":8.1,"v":19.5},{"s":"b09","t":9,"v":19},{"s":"b09","t":10,"v":18.5},{"s":"b09","t":10.95,"v":19},{"s":"b09","t":11,"v":6},{"s":"b09","t":11.3,"v":11},{"s":"b09","t":11.9,"v":13},{"s":"b09","t":12.0,"v":19},{"s":"b09","t":13,"v":19},{"s":"b09","t":14,"v":18.5},{"s":"b09","t":15,"v":18.5},{"s":"b09","t":15.2,"v":16},{"s":"b09","t":15.5,"v":14.5},{"s":"b09","t":15.95,"v":14},{"s":"b09","t":16.05,"v":5.8},{"s":"b09","t":16.9,"v":5.8},{"s":"b09","t":17.0,"v":7.2},{"s":"b09","t":18,"v":7},{"s":"b09","t":19,"v":6.8},{"s":"b09","t":20,"v":6.5},{"s":"b09","t":21,"v":6.3},{"s":"b09","t":21.05,"v":4.2},{"s":"b09","t":22,"v":4},{"s":"b09","t":23,"v":3},{"s":"b09","t":23.9,"v":2.6},{"s":"b09","t":24,"v":0.3},{"s":"b09","t":25,"v":0.5},{"s":"b09","t":26,"v":0.3},{"s":"b09","t":26.5,"v":0.6},{"s":"b09","t":27,"v":0.2},{"s":"b09","t":27.1,"v":0},{"s":"b09","t":30,"v":0},
{"s":"b10","t":0,"v":11},{"s":"b10","t":0.05,"v":34},{"s":"b10","t":0.3,"v":33.5},{"s":"b10","t":0.6,"v":33},{"s":"b10","t":0.95,"v":32.5},{"s":"b10","t":1.0,"v":30.5},{"s":"b10","t":1.5,"v":30.5},{"s":"b10","t":1.9,"v":30},{"s":"b10","t":2.0,"v":29},{"s":"b10","t":2.2,"v":27},{"s":"b10","t":3.0,"v":27.5},{"s":"b10","t":3.3,"v":25.5},{"s":"b10","t":3.6,"v":24.5},{"s":"b10","t":3.7,"v":9},{"s":"b10","t":4,"v":10},{"s":"b10","t":4.5,"v":8.5},{"s":"b10","t":5,"v":9.5},{"s":"b10","t":5.5,"v":8.5},{"s":"b10","t":5.85,"v":8.5},{"s":"b10","t":5.9,"v":25},{"s":"b10","t":6.1,"v":21.5},{"s":"b10","t":7,"v":21.5},{"s":"b10","t":8,"v":21},{"s":"b10","t":8.1,"v":19},{"s":"b10","t":9,"v":18.5},{"s":"b10","t":10,"v":18.5},{"s":"b10","t":10.95,"v":18.5},{"s":"b10","t":11,"v":6},{"s":"b10","t":11.3,"v":10},{"s":"b10","t":11.9,"v":12.5},{"s":"b10","t":12,"v":18.5},{"s":"b10","t":13,"v":18.5},{"s":"b10","t":14,"v":18},{"s":"b10","t":15,"v":18},{"s":"b10","t":15.2,"v":15.5},{"s":"b10","t":15.5,"v":14},{"s":"b10","t":15.95,"v":13.5},{"s":"b10","t":16.05,"v":5.5},{"s":"b10","t":16.9,"v":5.5},{"s":"b10","t":17,"v":7},{"s":"b10","t":18,"v":6.8},{"s":"b10","t":19,"v":6.5},{"s":"b10","t":20,"v":6.3},{"s":"b10","t":21,"v":6.0},{"s":"b10","t":21.05,"v":4.0},{"s":"b10","t":22,"v":3.8},{"s":"b10","t":23,"v":2.8},{"s":"b10","t":23.9,"v":2.5},{"s":"b10","t":24,"v":0.2},{"s":"b10","t":25,"v":0.6},{"s":"b10","t":25.5,"v":0.3},{"s":"b10","t":26,"v":0.5},{"s":"b10","t":26.5,"v":0.2},{"s":"b10","t":27,"v":0},{"s":"b10","t":29.4,"v":0},{"s":"b10","t":29.5,"v":1.0},{"s":"b10","t":29.8,"v":0.3},{"s":"b10","t":30,"v":1.0},
{"s":"b11","t":0,"v":11},{"s":"b11","t":0.05,"v":36},{"s":"b11","t":0.3,"v":35.5},{"s":"b11","t":0.95,"v":35},{"s":"b11","t":1.0,"v":26},{"s":"b11","t":1.5,"v":25},{"s":"b11","t":2.0,"v":25.5},{"s":"b11","t":2.2,"v":26},{"s":"b11","t":3.0,"v":26.5},{"s":"b11","t":3.3,"v":24.5},{"s":"b11","t":3.6,"v":24},{"s":"b11","t":3.7,"v":9},{"s":"b11","t":4,"v":9.5},{"s":"b11","t":5,"v":9},{"s":"b11","t":5.85,"v":9},{"s":"b11","t":5.9,"v":24.5},{"s":"b11","t":6.1,"v":22.5},{"s":"b11","t":7,"v":22.5},{"s":"b11","t":8,"v":22},{"s":"b11","t":8.1,"v":19.5},{"s":"b11","t":9,"v":19},{"s":"b11","t":10,"v":19},{"s":"b11","t":10.95,"v":19.5},{"s":"b11","t":11,"v":6.5},{"s":"b11","t":11.3,"v":11},{"s":"b11","t":11.9,"v":13},{"s":"b11","t":12,"v":19.5},{"s":"b11","t":13,"v":19.5},{"s":"b11","t":14,"v":19},{"s":"b11","t":15,"v":19},{"s":"b11","t":15.2,"v":16.5},{"s":"b11","t":15.5,"v":15},{"s":"b11","t":15.95,"v":15},{"s":"b11","t":16.05,"v":5.8},{"s":"b11","t":16.9,"v":5.8},{"s":"b11","t":17,"v":7.5},{"s":"b11","t":18,"v":7.5},{"s":"b11","t":19,"v":7.2},{"s":"b11","t":20,"v":7},{"s":"b11","t":21,"v":6.8},{"s":"b11","t":21.05,"v":4.2},{"s":"b11","t":22,"v":4},{"s":"b11","t":23,"v":3},{"s":"b11","t":23.9,"v":2.5},{"s":"b11","t":24,"v":0.3},{"s":"b11","t":25,"v":0.7},{"s":"b11","t":26,"v":0.4},{"s":"b11","t":27,"v":0},{"s":"b11","t":30,"v":0},
{"s":"b13","t":0,"v":10},{"s":"b13","t":0.05,"v":42},{"s":"b13","t":0.2,"v":36.5},{"s":"b13","t":0.4,"v":37.5},{"s":"b13","t":0.7,"v":37},{"s":"b13","t":0.9,"v":38},{"s":"b13","t":1.0,"v":36},{"s":"b13","t":1.1,"v":34},{"s":"b13","t":1.5,"v":33.5},{"s":"b13","t":1.9,"v":33},{"s":"b13","t":2.0,"v":31},{"s":"b13","t":2.2,"v":28.5},{"s":"b13","t":2.6,"v":28.5},{"s":"b13","t":3.0,"v":29},{"s":"b13","t":3.3,"v":27},{"s":"b13","t":3.6,"v":26.5},{"s":"b13","t":3.7,"v":10},{"s":"b13","t":3.9,"v":12.5},{"s":"b13","t":4.1,"v":8.5},{"s":"b13","t":4.3,"v":12},{"s":"b13","t":4.6,"v":9},{"s":"b13","t":4.9,"v":12.5},{"s":"b13","t":5.1,"v":7.5},{"s":"b13","t":5.4,"v":11.5},{"s":"b13","t":5.6,"v":9},{"s":"b13","t":5.85,"v":9},{"s":"b13","t":5.9,"v":28.5},{"s":"b13","t":6.1,"v":23.5},{"s":"b13","t":7.0,"v":23.5},{"s":"b13","t":7.5,"v":23},{"s":"b13","t":8.0,"v":23},{"s":"b13","t":8.1,"v":20},{"s":"b13","t":9.0,"v":19.5},{"s":"b13","t":10.0,"v":19.5},{"s":"b13","t":10.95,"v":19.5},{"s":"b13","t":11.0,"v":6.5},{"s":"b13","t":11.3,"v":13},{"s":"b13","t":11.6,"v":8},{"s":"b13","t":11.9,"v":13.5},{"s":"b13","t":12.0,"v":21},{"s":"b13","t":12.5,"v":20},{"s":"b13","t":13.0,"v":20.5},{"s":"b13","t":14.0,"v":19},{"s":"b13","t":15.0,"v":19.5},{"s":"b13","t":15.2,"v":17.5},{"s":"b13","t":15.5,"v":16},{"s":"b13","t":15.95,"v":16},{"s":"b13","t":16.05,"v":6},{"s":"b13","t":16.9,"v":6},{"s":"b13","t":17.0,"v":7.5},{"s":"b13","t":18,"v":7},{"s":"b13","t":19,"v":6.8},{"s":"b13","t":20,"v":6.3},{"s":"b13","t":21,"v":6.0},{"s":"b13","t":21.05,"v":4.0},{"s":"b13","t":22,"v":3.8},{"s":"b13","t":22.4,"v":3.5},{"s":"b13","t":22.7,"v":2.0},{"s":"b13","t":23.0,"v":3.0},{"s":"b13","t":23.9,"v":2.5},{"s":"b13","t":24.0,"v":0},{"s":"b13","t":28.2,"v":0},{"s":"b13","t":28.3,"v":1.0},{"s":"b13","t":28.6,"v":0.8},{"s":"b13","t":29,"v":1.0},{"s":"b13","t":29.1,"v":0},{"s":"b13","t":30,"v":0}
]
},
"resolve": {"scale": {"color": "independent"}},
"hconcat": [
{
  "width": 517, "height": 364,
  "title": {"text": "ARC34 local gradients btw magnets(LS2)"},
  "layer": [
    {"data": {"name": "grad"},
     "mark": {"type": "line", "strokeWidth": 2, "clip": true},
     "encoding": {
       "x": {"field": "t", "type": "quantitative", "scale": {"domain": [0, 30], "nice": false}, "axis": {"title": "day", "values": [0,5,10,15,20,25,30]}},
       "y": {"field": "v", "type": "quantitative", "scale": {"domain": [0, 8], "nice": false}, "axis": {"title": "dT/dl(K/m)", "values": [0,1,2,3,4,5,6,7,8]}},
       "color": {"field": "s", "type": "nominal", "legend": null,
         "scale": {"domain": ["a00","a01","a02","a03","a04","a05","a06","a07","a08","a09","a10","a11","a12","a13","a14","a15","a16","a17","a18","a19","a20","a21","a22","a23","a24","a25","a26","a27","a28","a29","a30","a31","a32","a33","a34","a35","a36","a37","a38","a39"],
                   "range": ["#1f77b4","#ff7f0e","#2ca02c","#d62728","#9467bd","#8c564b","#e377c2","#7f7f7f","#bcbd22","#17becf","#1f77b4","#ff7f0e","#2ca02c","#d62728","#9467bd","#8c564b","#e377c2","#7f7f7f","#bcbd22","#17becf","#1f77b4","#ff7f0e","#2ca02c","#d62728","#9467bd","#8c564b","#e377c2","#7f7f7f","#bcbd22","#17becf","#1f77b4","#ff7f0e","#2ca02c","#d62728","#9467bd","#8c564b","#e377c2","#7f7f7f","#bcbd22","#17becf"]}}
     }},
    {"data": {"values": [{"v": 5}]},
     "mark": {"type": "rule", "color": "black", "strokeWidth": 2.5, "strokeDash": [10, 4.5]},
     "encoding": {"y": {"field": "v", "type": "quantitative"}}}
  ]
},
{
  "width": 517, "height": 364,
  "title": {"text": "ARC34 max gas speed(LS2)", "offset": 3.5},
  "layer": [
    {"data": {"name": "speed"},
     "mark": {"type": "line", "strokeWidth": 2, "clip": true},
     "encoding": {
       "x": {"field": "t", "type": "quantitative", "scale": {"domain": [0, 30], "nice": false}, "axis": {"title": "day", "values": [0,5,10,15,20,25,30]}},
       "y": {"field": "v", "type": "quantitative", "scale": {"domain": [0, 75], "nice": false}, "axis": {"title": "V(m/s)", "values": [0,10,20,30,40,50,60,70]}},
       "color": {"field": "s", "type": "nominal", "legend": null,
         "scale": {"domain": ["b00","b01","b02","b04","b05","b07","b08","b09","b10","b11","b13"],
                   "range": ["#1f77b4","#ff7f0e","#2ca02c","#9467bd","#8c564b","#7f7f7f","#bcbd22","#17becf","#1f77b4","#ff7f0e","#d62728"]}}
     }},
    {"data": {"values": [{"v": 50}]},
     "mark": {"type": "rule", "color": "black", "strokeWidth": 2.5, "strokeDash": [10, 4.5]},
     "encoding": {"y": {"field": "v", "type": "quantitative"}}}
  ]
}
]
}
